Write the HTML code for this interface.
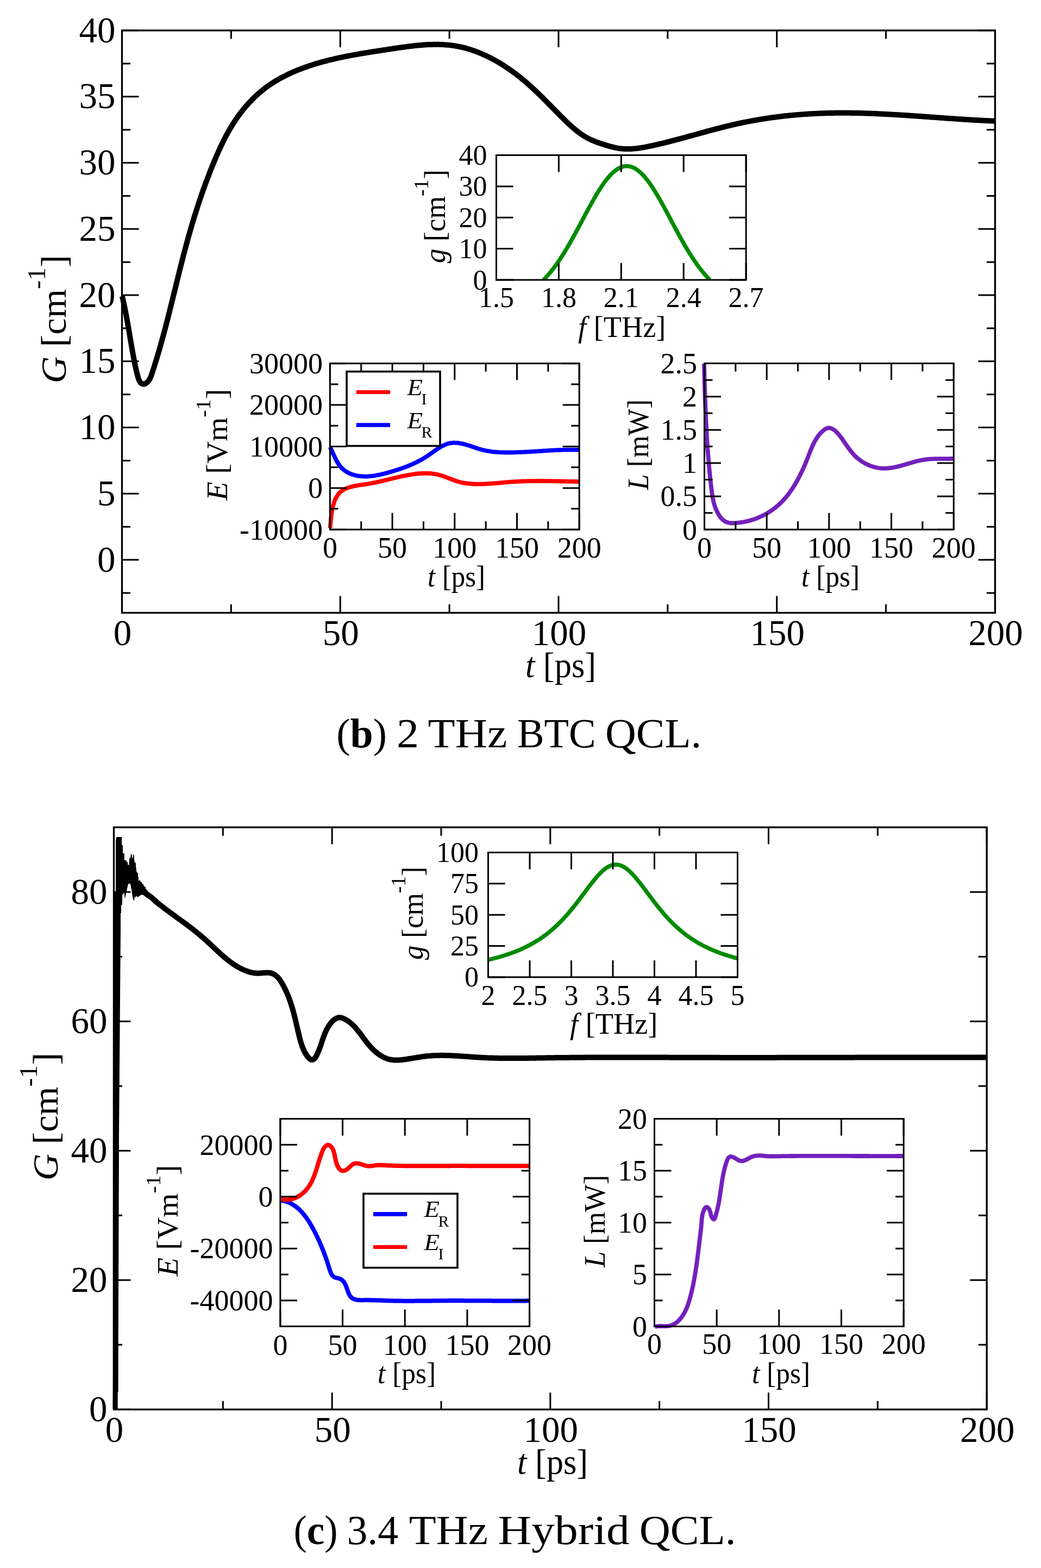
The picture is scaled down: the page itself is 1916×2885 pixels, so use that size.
<!DOCTYPE html>
<html><head><meta charset="utf-8"><title>QCL gain dynamics</title>
<style>html,body{margin:0;padding:0;background:#fff;}svg{display:block;}</style></head>
<body><svg xmlns="http://www.w3.org/2000/svg" width="1916" height="2885" viewBox="0 0 1916 2885" font-family="Liberation Serif, serif" fill="#000">
<rect width="1916" height="2885" fill="#fff"/>
<path d="M224.5,1127.5v-31M224.5,56v31M626.25,1127.5v-31M626.25,56v31M1028,1127.5v-31M1028,56v31M1429.75,1127.5v-31M1429.75,56v31M1831.5,1127.5v-31M1831.5,56v31M425.38,1127.5v-15.5M425.38,56v15.5M827.12,1127.5v-15.5M827.12,56v15.5M1228.88,1127.5v-15.5M1228.88,56v15.5M1630.62,1127.5v-15.5M1630.62,56v15.5M224.5,1030.09h31M1831.5,1030.09h-31M224.5,908.33h31M1831.5,908.33h-31M224.5,786.57h31M1831.5,786.57h-31M224.5,664.81h31M1831.5,664.81h-31M224.5,543.05h31M1831.5,543.05h-31M224.5,421.28h31M1831.5,421.28h-31M224.5,299.52h31M1831.5,299.52h-31M224.5,177.76h31M1831.5,177.76h-31M224.5,56h31M1831.5,56h-31M224.5,1090.97h15.5M1831.5,1090.97h-15.5M224.5,969.21h15.5M1831.5,969.21h-15.5M224.5,847.45h15.5M1831.5,847.45h-15.5M224.5,725.69h15.5M1831.5,725.69h-15.5M224.5,603.93h15.5M1831.5,603.93h-15.5M224.5,482.16h15.5M1831.5,482.16h-15.5M224.5,360.4h15.5M1831.5,360.4h-15.5M224.5,238.64h15.5M1831.5,238.64h-15.5M224.5,116.88h15.5M1831.5,116.88h-15.5" stroke="#000" stroke-width="3" fill="none"/>
<rect x="224.5" y="56" width="1607" height="1071.5" fill="none" stroke="#000" stroke-width="3.3"/>
<text x="212.6" y="1051.69" font-size="67" text-anchor="end">0</text>
<text x="212.6" y="929.93" font-size="67" text-anchor="end">5</text>
<text x="212.6" y="808.17" font-size="67" text-anchor="end">10</text>
<text x="212.6" y="686.41" font-size="67" text-anchor="end">15</text>
<text x="212.6" y="564.65" font-size="67" text-anchor="end">20</text>
<text x="212.6" y="442.88" font-size="67" text-anchor="end">25</text>
<text x="212.6" y="321.12" font-size="67" text-anchor="end">30</text>
<text x="212.6" y="199.36" font-size="67" text-anchor="end">35</text>
<text x="212.6" y="77.6" font-size="67" text-anchor="end">40</text>
<text x="225.5" y="1187.2" font-size="67" text-anchor="middle">0</text>
<text x="627.25" y="1187.2" font-size="67" text-anchor="middle">50</text>
<text x="1029" y="1187.2" font-size="67" text-anchor="middle">100</text>
<text x="1430.75" y="1187.2" font-size="67" text-anchor="middle">150</text>
<text x="1832.5" y="1187.2" font-size="67" text-anchor="middle">200</text>
<path d="M224.8,545.0 L225.3,546.9 L225.7,548.8 L226.2,550.7 L226.6,552.6 L227.0,554.6 L227.4,556.5 L227.9,558.4 L228.3,560.3 L228.7,562.3 L229.1,564.2 L229.5,566.1 L229.9,568.1 L230.3,570.0 L230.7,572.0 L231.1,573.9 L231.4,575.9 L231.8,577.8 L232.2,579.8 L232.6,581.7 L232.9,583.7 L233.3,585.7 L233.6,587.6 L234.0,589.6 L234.4,591.5 L234.7,593.5 L235.1,595.5 L235.4,597.4 L235.8,599.4 L236.1,601.4 L236.4,603.3 L236.8,605.3 L237.1,607.3 L237.5,609.2 L237.8,611.2 L238.1,613.2 L238.5,615.1 L238.8,617.1 L239.1,619.1 L239.5,621.0 L239.8,623.0 L240.1,624.9 L240.5,626.9 L240.8,628.9 L241.1,630.8 L241.5,632.8 L241.8,634.7 L242.1,636.7 L242.5,638.6 L242.8,640.5 L243.1,642.5 L243.5,644.4 L243.8,646.4 L244.2,648.3 L244.5,650.2 L244.9,652.1 L245.2,654.0 L245.5,656.0 L245.9,657.9 L246.3,659.8 L246.6,661.7 L247.0,663.6 L247.4,665.5 L247.7,667.5 L248.1,669.4 L248.5,671.3 L249.0,673.3 L249.4,675.2 L249.8,677.2 L250.3,679.1 L250.7,681.1 L251.2,683.1 L251.7,685.1 L252.2,687.1 L252.7,689.1 L253.3,691.2 L253.8,693.2 L254.4,695.3 L255.1,697.3 L255.8,699.3 L256.7,701.1 L257.7,702.7 L258.8,704.2 L260.2,705.4 L261.7,706.3 L263.4,706.7 L265.2,706.7 L267.0,706.1 L268.7,705.1 L270.2,704.0 L271.6,702.8 L272.9,701.4 L274.0,699.9 L275.0,698.4 L275.9,696.7 L276.8,695.0 L277.5,693.2 L278.2,691.3 L278.9,689.4 L279.6,687.5 L280.2,685.6 L280.8,683.7 L281.4,681.8 L282.1,679.9 L282.7,678.0 L283.3,676.1 L283.9,674.2 L284.5,672.3 L285.1,670.4 L285.7,668.5 L286.3,666.5 L286.9,664.6 L287.5,662.7 L288.1,660.8 L288.6,658.9 L289.2,657.0 L289.8,655.1 L290.4,653.2 L290.9,651.2 L291.5,649.3 L292.1,647.4 L292.6,645.5 L293.2,643.6 L293.7,641.7 L294.3,639.7 L294.8,637.8 L295.4,635.9 L295.9,634.0 L296.4,632.1 L297.0,630.2 L297.5,628.2 L298.0,626.3 L298.6,624.4 L299.1,622.5 L299.6,620.6 L300.2,618.6 L300.7,616.7 L301.2,614.8 L301.7,612.9 L302.2,610.9 L302.7,609.0 L303.2,607.1 L303.8,605.2 L304.3,603.3 L304.8,601.3 L305.3,599.4 L305.8,597.5 L306.3,595.6 L306.8,593.6 L307.3,591.7 L307.8,589.8 L308.3,587.9 L308.8,585.9 L309.2,584.0 L309.7,582.1 L310.2,580.2 L310.7,578.2 L311.2,576.3 L311.7,574.4 L312.2,572.5 L312.6,570.5 L313.1,568.6 L313.6,566.7 L314.1,564.8 L314.6,562.8 L315.0,560.9 L315.5,559.0 L316.0,557.1 L316.5,555.1 L316.9,553.2 L317.4,551.3 L317.9,549.4 L318.4,547.4 L318.8,545.5 L319.3,543.6 L319.8,541.7 L320.3,539.7 L320.7,537.8 L321.2,535.9 L321.7,534.0 L322.2,532.0 L322.6,530.1 L323.1,528.2 L323.6,526.3 L324.0,524.3 L324.5,522.4 L325.0,520.5 L325.5,518.6 L325.9,516.6 L326.4,514.7 L326.9,512.8 L327.4,510.9 L327.8,508.9 L328.3,507.0 L328.8,505.1 L329.3,503.2 L329.8,501.3 L330.2,499.3 L330.7,497.4 L331.2,495.5 L331.7,493.6 L332.2,491.6 L332.6,489.7 L333.1,487.8 L333.6,485.9 L334.1,484.0 L334.6,482.0 L335.1,480.1 L335.6,478.2 L336.1,476.3 L336.6,474.4 L337.0,472.4 L337.5,470.5 L338.0,468.6 L338.5,466.7 L339.0,464.8 L339.5,462.9 L340.1,460.9 L340.6,459.0 L341.1,457.1 L341.6,455.2 L342.1,453.3 L342.6,451.4 L343.1,449.5 L343.6,447.5 L344.2,445.6 L344.7,443.7 L345.2,441.8 L345.7,439.9 L346.3,438.0 L346.8,436.1 L347.3,434.2 L347.9,432.2 L348.4,430.3 L349.0,428.4 L349.5,426.5 L350.1,424.6 L350.6,422.7 L351.2,420.8 L351.7,418.9 L352.3,417.0 L352.8,415.1 L353.4,413.2 L354.0,411.3 L354.5,409.4 L355.1,407.5 L355.7,405.6 L356.3,403.7 L356.8,401.8 L357.4,399.9 L358.0,398.0 L358.6,396.1 L359.2,394.2 L359.8,392.3 L360.4,390.4 L361.0,388.5 L361.6,386.6 L362.2,384.7 L362.8,382.8 L363.4,380.9 L364.0,379.0 L364.6,377.1 L365.2,375.3 L365.9,373.4 L366.5,371.5 L367.1,369.6 L367.8,367.7 L368.4,365.8 L369.0,364.0 L369.7,362.1 L370.3,360.2 L371.0,358.3 L371.6,356.4 L372.3,354.6 L372.9,352.7 L373.6,350.8 L374.2,348.9 L374.9,347.1 L375.6,345.2 L376.3,343.3 L376.9,341.5 L377.6,339.6 L378.3,337.7 L379.0,335.9 L379.7,334.0 L380.4,332.1 L381.1,330.3 L381.8,328.4 L382.5,326.6 L383.2,324.7 L383.9,322.9 L384.6,321.0 L385.3,319.2 L386.1,317.3 L386.8,315.5 L387.5,313.6 L388.2,311.8 L389.0,309.9 L389.7,308.1 L390.5,306.2 L391.2,304.4 L392.0,302.6 L392.7,300.7 L393.5,298.9 L394.2,297.1 L395.0,295.2 L395.8,293.4 L396.5,291.6 L397.3,289.8 L398.1,287.9 L398.9,286.1 L399.7,284.3 L400.5,282.5 L401.3,280.7 L402.1,278.9 L402.9,277.0 L403.7,275.2 L404.6,273.4 L405.4,271.6 L406.2,269.8 L407.1,268.0 L407.9,266.3 L408.8,264.5 L409.7,262.7 L410.5,260.9 L411.4,259.1 L412.3,257.4 L413.2,255.6 L414.1,253.9 L415.0,252.1 L415.9,250.3 L416.9,248.6 L417.8,246.9 L418.8,245.1 L419.7,243.4 L420.7,241.7 L421.7,239.9 L422.7,238.2 L423.6,236.5 L424.7,234.8 L425.7,233.1 L426.7,231.4 L427.7,229.7 L428.8,228.1 L429.9,226.4 L430.9,224.7 L432.0,223.1 L433.1,221.4 L434.2,219.7 L435.4,218.1 L436.5,216.5 L437.6,214.8 L438.8,213.2 L440.0,211.6 L441.1,210.0 L442.3,208.4 L443.5,206.8 L444.8,205.3 L446.0,203.7 L447.2,202.1 L448.5,200.6 L449.8,199.1 L451.0,197.5 L452.3,196.0 L453.6,194.5 L454.9,193.0 L456.3,191.5 L457.6,190.0 L458.9,188.6 L460.3,187.1 L461.7,185.7 L463.0,184.2 L464.4,182.8 L465.8,181.4 L467.3,180.0 L468.7,178.7 L470.1,177.3 L471.6,175.9 L473.0,174.6 L474.5,173.3 L476.0,172.0 L477.5,170.7 L479.0,169.4 L480.5,168.1 L482.0,166.9 L483.6,165.6 L485.1,164.4 L486.7,163.2 L488.2,162.0 L489.8,160.8 L491.4,159.6 L493.0,158.5 L494.6,157.4 L496.2,156.2 L497.9,155.1 L499.5,154.0 L501.2,153.0 L502.8,151.9 L504.5,150.8 L506.2,149.8 L507.9,148.8 L509.5,147.8 L511.3,146.8 L513.0,145.8 L514.7,144.8 L516.4,143.9 L518.1,142.9 L519.9,142.0 L521.6,141.1 L523.4,140.2 L525.2,139.3 L526.9,138.4 L528.7,137.5 L530.5,136.7 L532.3,135.8 L534.1,135.0 L535.9,134.1 L537.7,133.3 L539.5,132.5 L541.4,131.7 L543.2,131.0 L545.0,130.2 L546.9,129.4 L548.7,128.7 L550.6,128.0 L552.4,127.2 L554.3,126.5 L556.1,125.8 L558.0,125.1 L559.9,124.4 L561.7,123.8 L563.6,123.1 L565.5,122.4 L567.4,121.8 L569.3,121.1 L571.2,120.5 L573.1,119.9 L575.0,119.3 L576.9,118.7 L578.8,118.1 L580.7,117.5 L582.6,116.9 L584.5,116.4 L586.4,115.8 L588.4,115.3 L590.3,114.7 L592.2,114.2 L594.1,113.7 L596.0,113.1 L598.0,112.6 L599.9,112.1 L601.8,111.6 L603.7,111.1 L605.7,110.7 L607.6,110.2 L609.5,109.7 L611.4,109.3 L613.4,108.8 L615.3,108.3 L617.2,107.9 L619.2,107.5 L621.1,107.0 L623.0,106.6 L624.9,106.2 L626.9,105.8 L628.8,105.4 L630.7,105.0 L632.7,104.6 L634.6,104.2 L636.5,103.8 L638.5,103.4 L640.4,103.0 L642.3,102.7 L644.3,102.3 L646.2,101.9 L648.1,101.6 L650.1,101.2 L652.0,100.9 L654.0,100.5 L655.9,100.2 L657.8,99.8 L659.8,99.5 L661.7,99.1 L663.7,98.8 L665.6,98.5 L667.6,98.2 L669.5,97.8 L671.4,97.5 L673.4,97.2 L675.3,96.9 L677.3,96.6 L679.2,96.2 L681.2,95.9 L683.1,95.6 L685.1,95.3 L687.1,95.0 L689.0,94.7 L691.0,94.4 L692.9,94.1 L694.9,93.8 L696.9,93.5 L698.8,93.2 L700.8,92.9 L702.7,92.6 L704.7,92.3 L706.7,92.0 L708.6,91.7 L710.6,91.4 L712.6,91.1 L714.6,90.8 L716.5,90.5 L718.5,90.2 L720.5,89.9 L722.5,89.6 L724.5,89.3 L726.4,89.0 L728.4,88.7 L730.4,88.4 L732.4,88.1 L734.4,87.8 L736.4,87.5 L738.4,87.3 L740.3,87.0 L742.3,86.7 L744.3,86.4 L746.3,86.2 L748.3,85.9 L750.3,85.6 L752.3,85.4 L754.3,85.1 L756.3,84.9 L758.3,84.7 L760.2,84.4 L762.2,84.2 L764.2,84.0 L766.2,83.8 L768.2,83.6 L770.2,83.4 L772.2,83.2 L774.2,83.1 L776.2,82.9 L778.1,82.7 L780.1,82.6 L782.1,82.5 L784.1,82.3 L786.1,82.2 L788.1,82.1 L790.0,82.0 L792.0,82.0 L794.0,81.9 L796.0,81.9 L798.0,81.8 L799.9,81.8 L801.9,81.8 L803.9,81.8 L805.8,81.8 L807.8,81.8 L809.8,81.9 L811.7,82.0 L813.7,82.0 L815.7,82.1 L817.6,82.3 L819.6,82.4 L821.5,82.5 L823.5,82.7 L825.4,82.9 L827.4,83.1 L829.3,83.3 L831.2,83.5 L833.2,83.8 L835.1,84.1 L837.1,84.4 L839.0,84.7 L840.9,85.0 L842.8,85.4 L844.7,85.7 L846.7,86.1 L848.6,86.6 L850.5,87.0 L852.4,87.4 L854.3,87.9 L856.2,88.4 L858.1,88.9 L860.0,89.5 L861.9,90.0 L863.8,90.6 L865.6,91.2 L867.5,91.8 L869.4,92.4 L871.2,93.0 L873.1,93.7 L875.0,94.3 L876.8,95.0 L878.7,95.7 L880.5,96.5 L882.4,97.2 L884.2,98.0 L886.0,98.7 L887.8,99.5 L889.7,100.3 L891.5,101.1 L893.3,102.0 L895.1,102.8 L896.9,103.7 L898.7,104.5 L900.5,105.4 L902.3,106.3 L904.0,107.2 L905.8,108.2 L907.6,109.1 L909.3,110.1 L911.1,111.0 L912.8,112.0 L914.6,113.0 L916.3,114.0 L918.0,115.0 L919.8,116.1 L921.5,117.1 L923.2,118.1 L924.9,119.2 L926.6,120.3 L928.3,121.4 L930.0,122.5 L931.6,123.6 L933.3,124.7 L935.0,125.8 L936.6,126.9 L938.3,128.1 L939.9,129.2 L941.6,130.4 L943.2,131.6 L944.8,132.7 L946.4,133.9 L948.0,135.1 L949.6,136.3 L951.2,137.5 L952.8,138.8 L954.4,140.0 L955.9,141.2 L957.5,142.5 L959.0,143.7 L960.6,145.0 L962.1,146.2 L963.6,147.5 L965.1,148.8 L966.7,150.0 L968.2,151.3 L969.6,152.6 L971.1,153.9 L972.6,155.2 L974.1,156.5 L975.5,157.8 L977.0,159.1 L978.5,160.5 L979.9,161.8 L981.3,163.1 L982.8,164.5 L984.2,165.8 L985.6,167.1 L987.1,168.5 L988.5,169.8 L989.9,171.2 L991.3,172.6 L992.7,173.9 L994.1,175.3 L995.5,176.7 L996.9,178.0 L998.3,179.4 L999.7,180.8 L1001.1,182.2 L1002.5,183.6 L1003.9,185.0 L1005.3,186.4 L1006.6,187.8 L1008.0,189.2 L1009.4,190.6 L1010.8,192.0 L1012.2,193.4 L1013.6,194.8 L1015.0,196.2 L1016.3,197.6 L1017.7,199.0 L1019.1,200.4 L1020.5,201.8 L1021.9,203.3 L1023.3,204.7 L1024.7,206.1 L1026.1,207.5 L1027.5,209.0 L1028.9,210.4 L1030.3,211.8 L1031.7,213.2 L1033.1,214.7 L1034.6,216.1 L1036.0,217.5 L1037.4,218.9 L1038.8,220.3 L1040.3,221.7 L1041.7,223.2 L1043.2,224.6 L1044.6,225.9 L1046.1,227.3 L1047.6,228.7 L1049.1,230.1 L1050.6,231.4 L1052.1,232.7 L1053.6,234.1 L1055.1,235.4 L1056.6,236.7 L1058.1,237.9 L1059.7,239.2 L1061.2,240.5 L1062.8,241.7 L1064.3,242.9 L1065.9,244.1 L1067.5,245.2 L1069.1,246.4 L1070.7,247.5 L1072.4,248.6 L1074.0,249.6 L1075.7,250.7 L1077.3,251.7 L1079.0,252.7 L1080.7,253.6 L1082.4,254.6 L1084.1,255.4 L1085.9,256.3 L1087.6,257.1 L1089.4,257.9 L1091.2,258.7 L1093.0,259.4 L1094.8,260.2 L1096.6,260.9 L1098.4,261.5 L1100.3,262.2 L1102.1,262.9 L1104.0,263.5 L1105.9,264.1 L1107.7,264.7 L1109.6,265.3 L1111.5,265.9 L1113.4,266.5 L1115.4,267.1 L1117.3,267.7 L1119.2,268.3 L1121.2,268.9 L1123.1,269.4 L1125.1,269.9 L1127.0,270.4 L1129.0,270.9 L1130.9,271.4 L1132.9,271.8 L1134.9,272.2 L1136.8,272.6 L1138.8,272.9 L1140.7,273.2 L1142.7,273.4 L1144.7,273.6 L1146.6,273.8 L1148.6,273.9 L1150.6,274.0 L1152.5,274.0 L1154.5,274.1 L1156.5,274.1 L1158.4,274.0 L1160.4,274.0 L1162.3,273.9 L1164.3,273.7 L1166.3,273.6 L1168.2,273.4 L1170.2,273.2 L1172.1,273.0 L1174.1,272.8 L1176.0,272.5 L1178.0,272.2 L1180.0,271.9 L1181.9,271.6 L1183.9,271.3 L1185.8,270.9 L1187.8,270.6 L1189.7,270.2 L1191.7,269.8 L1193.6,269.4 L1195.5,269.0 L1197.5,268.6 L1199.4,268.2 L1201.4,267.8 L1203.3,267.3 L1205.2,266.9 L1207.2,266.5 L1209.1,266.0 L1211.1,265.6 L1213.0,265.1 L1214.9,264.7 L1216.9,264.2 L1218.8,263.8 L1220.7,263.3 L1222.7,262.8 L1224.6,262.4 L1226.5,261.9 L1228.4,261.4 L1230.4,260.9 L1232.3,260.4 L1234.2,259.9 L1236.1,259.4 L1238.1,258.9 L1240.0,258.4 L1241.9,257.9 L1243.8,257.4 L1245.7,256.9 L1247.7,256.4 L1249.6,255.9 L1251.5,255.4 L1253.4,254.9 L1255.3,254.3 L1257.3,253.8 L1259.2,253.3 L1261.1,252.8 L1263.0,252.3 L1264.9,251.7 L1266.8,251.2 L1268.8,250.7 L1270.7,250.2 L1272.6,249.6 L1274.5,249.1 L1276.4,248.6 L1278.3,248.0 L1280.3,247.5 L1282.2,247.0 L1284.1,246.4 L1286.0,245.9 L1287.9,245.4 L1289.8,244.9 L1291.7,244.3 L1293.7,243.8 L1295.6,243.3 L1297.5,242.8 L1299.4,242.2 L1301.3,241.7 L1303.2,241.2 L1305.2,240.7 L1307.1,240.1 L1309.0,239.6 L1310.9,239.1 L1312.8,238.6 L1314.8,238.1 L1316.7,237.6 L1318.6,237.1 L1320.5,236.6 L1322.4,236.1 L1324.4,235.6 L1326.3,235.1 L1328.2,234.6 L1330.1,234.1 L1332.1,233.6 L1334.0,233.1 L1335.9,232.7 L1337.8,232.2 L1339.8,231.7 L1341.7,231.3 L1343.6,230.8 L1345.5,230.3 L1347.5,229.9 L1349.4,229.4 L1351.3,229.0 L1353.3,228.6 L1355.2,228.1 L1357.1,227.7 L1359.1,227.3 L1361.0,226.9 L1363.0,226.4 L1364.9,226.0 L1366.8,225.6 L1368.8,225.2 L1370.7,224.8 L1372.7,224.4 L1374.6,224.1 L1376.6,223.7 L1378.5,223.3 L1380.5,222.9 L1382.4,222.6 L1384.4,222.2 L1386.3,221.9 L1388.3,221.5 L1390.2,221.2 L1392.2,220.8 L1394.1,220.5 L1396.1,220.1 L1398.0,219.8 L1400.0,219.5 L1402.0,219.2 L1403.9,218.9 L1405.9,218.6 L1407.8,218.2 L1409.8,217.9 L1411.8,217.7 L1413.7,217.4 L1415.7,217.1 L1417.6,216.8 L1419.6,216.5 L1421.6,216.2 L1423.5,216.0 L1425.5,215.7 L1427.5,215.5 L1429.4,215.2 L1431.4,214.9 L1433.4,214.7 L1435.3,214.5 L1437.3,214.2 L1439.3,214.0 L1441.2,213.8 L1443.2,213.5 L1445.2,213.3 L1447.2,213.1 L1449.1,212.9 L1451.1,212.7 L1453.1,212.5 L1455.1,212.3 L1457.0,212.1 L1459.0,211.9 L1461.0,211.7 L1463.0,211.6 L1464.9,211.4 L1466.9,211.2 L1468.9,211.0 L1470.9,210.9 L1472.8,210.7 L1474.8,210.6 L1476.8,210.4 L1478.8,210.3 L1480.7,210.1 L1482.7,210.0 L1484.7,209.9 L1486.7,209.7 L1488.7,209.6 L1490.6,209.5 L1492.6,209.4 L1494.6,209.3 L1496.6,209.2 L1498.6,209.0 L1500.5,208.9 L1502.5,208.9 L1504.5,208.8 L1506.5,208.7 L1508.5,208.6 L1510.5,208.5 L1512.4,208.4 L1514.4,208.4 L1516.4,208.3 L1518.4,208.2 L1520.4,208.2 L1522.3,208.1 L1524.3,208.1 L1526.3,208.0 L1528.3,208.0 L1530.3,207.9 L1532.3,207.9 L1534.2,207.9 L1536.2,207.8 L1538.2,207.8 L1540.2,207.8 L1542.2,207.8 L1544.1,207.8 L1546.1,207.8 L1548.1,207.8 L1550.1,207.8 L1552.1,207.8 L1554.1,207.8 L1556.0,207.8 L1558.0,207.8 L1560.0,207.8 L1562.0,207.8 L1564.0,207.8 L1566.0,207.8 L1567.9,207.9 L1569.9,207.9 L1571.9,207.9 L1573.9,208.0 L1575.9,208.0 L1577.8,208.0 L1579.8,208.1 L1581.8,208.1 L1583.8,208.2 L1585.8,208.2 L1587.8,208.3 L1589.7,208.3 L1591.7,208.4 L1593.7,208.5 L1595.7,208.5 L1597.7,208.6 L1599.7,208.7 L1601.6,208.7 L1603.6,208.8 L1605.6,208.9 L1607.6,209.0 L1609.6,209.1 L1611.6,209.1 L1613.5,209.2 L1615.5,209.3 L1617.5,209.4 L1619.5,209.5 L1621.5,209.6 L1623.4,209.7 L1625.4,209.8 L1627.4,209.9 L1629.4,210.0 L1631.4,210.1 L1633.4,210.2 L1635.3,210.3 L1637.3,210.4 L1639.3,210.5 L1641.3,210.6 L1643.3,210.7 L1645.3,210.9 L1647.2,211.0 L1649.2,211.1 L1651.2,211.2 L1653.2,211.3 L1655.2,211.4 L1657.2,211.6 L1659.1,211.7 L1661.1,211.8 L1663.1,211.9 L1665.1,212.1 L1667.1,212.2 L1669.1,212.3 L1671.0,212.5 L1673.0,212.6 L1675.0,212.7 L1677.0,212.9 L1679.0,213.0 L1680.9,213.1 L1682.9,213.3 L1684.9,213.4 L1686.9,213.5 L1688.9,213.7 L1690.9,213.8 L1692.8,214.0 L1694.8,214.1 L1696.8,214.2 L1698.8,214.4 L1700.8,214.5 L1702.8,214.7 L1704.7,214.8 L1706.7,214.9 L1708.7,215.1 L1710.7,215.2 L1712.7,215.4 L1714.6,215.5 L1716.6,215.7 L1718.6,215.8 L1720.6,215.9 L1722.6,216.1 L1724.6,216.2 L1726.5,216.4 L1728.5,216.5 L1730.5,216.7 L1732.5,216.8 L1734.5,216.9 L1736.4,217.1 L1738.4,217.2 L1740.4,217.4 L1742.4,217.5 L1744.4,217.7 L1746.3,217.8 L1748.3,217.9 L1750.3,218.1 L1752.3,218.2 L1754.3,218.3 L1756.3,218.5 L1758.2,218.6 L1760.2,218.8 L1762.2,218.9 L1764.2,219.0 L1766.2,219.2 L1768.1,219.3 L1770.1,219.4 L1772.1,219.5 L1774.1,219.7 L1776.1,219.8 L1778.0,219.9 L1780.0,220.0 L1782.0,220.2 L1784.0,220.3 L1786.0,220.4 L1787.9,220.5 L1789.9,220.7 L1791.9,220.8 L1793.9,220.9 L1795.9,221.0 L1797.8,221.1 L1799.8,221.2 L1801.8,221.3 L1803.8,221.4 L1805.8,221.5 L1807.7,221.6 L1809.7,221.8 L1811.7,221.9 L1813.7,222.0 L1815.7,222.0 L1817.6,222.1 L1819.6,222.2 L1821.6,222.3 L1823.6,222.4 L1825.6,222.5 L1827.5,222.6 L1829.5,222.7 L1831.5,222.7" fill="none" stroke="#000" stroke-width="10" stroke-linejoin="round" stroke-linecap="butt"/>
<clipPath id="cg1"><rect x="913.5" y="285.5" width="459.6" height="229.5"/></clipPath>
<path d="M1000.33,515 L1004.2,511 L1008.08,506.75 L1011.96,502.25 L1015.83,497.49 L1019.71,492.48 L1023.59,487.22 L1027.46,481.71 L1031.34,475.96 L1035.21,469.98 L1039.09,463.78 L1042.97,457.37 L1046.84,450.77 L1050.72,444.01 L1054.6,437.09 L1058.47,430.04 L1062.35,422.89 L1066.23,415.66 L1070.1,408.39 L1073.98,401.11 L1077.86,393.84 L1081.73,386.62 L1085.61,379.5 L1089.49,372.49 L1093.36,365.65 L1097.24,359.01 L1101.12,352.61 L1104.99,346.47 L1108.87,340.65 L1112.75,335.18 L1116.62,330.08 L1120.5,325.39 L1124.38,321.14 L1128.25,317.36 L1132.13,314.07 L1136.01,311.3 L1139.88,309.05 L1143.76,307.36 L1147.63,306.22 L1151.51,305.65 L1155.39,305.65 L1159.26,306.22 L1163.14,307.36 L1167.02,309.05 L1170.89,311.3 L1174.77,314.07 L1178.65,317.36 L1182.52,321.14 L1186.4,325.39 L1190.28,330.08 L1194.15,335.18 L1198.03,340.65 L1201.91,346.47 L1205.78,352.61 L1209.66,359.01 L1213.54,365.65 L1217.41,372.49 L1221.29,379.5 L1225.17,386.62 L1229.04,393.84 L1232.92,401.11 L1236.8,408.39 L1240.67,415.66 L1244.55,422.89 L1248.42,430.04 L1252.3,437.09 L1256.18,444.01 L1260.05,450.77 L1263.93,457.37 L1267.81,463.78 L1271.68,469.98 L1275.56,475.96 L1279.44,481.71 L1283.31,487.22 L1287.19,492.48 L1291.07,497.49 L1294.94,502.25 L1298.82,506.75 L1302.7,511 L1306.57,515" fill="none" stroke="#008b00" stroke-width="7.5" stroke-linejoin="round" stroke-linecap="butt" clip-path="url(#cg1)"/>
<path d="M913.5,515v-31M913.5,285.5v31M1028.4,515v-31M1028.4,285.5v31M1143.3,515v-31M1143.3,285.5v31M1258.2,515v-31M1258.2,285.5v31M1373.1,515v-31M1373.1,285.5v31M913.5,515h31M1373.1,515h-31M913.5,457.62h31M1373.1,457.62h-31M913.5,400.25h31M1373.1,400.25h-31M913.5,342.88h31M1373.1,342.88h-31M913.5,285.5h31M1373.1,285.5h-31" stroke="#000" stroke-width="3" fill="none"/>
<rect x="913.5" y="285.5" width="459.6" height="229.5" fill="none" stroke="#000" stroke-width="3"/>
<text x="896.5" y="532.5" font-size="52" text-anchor="end">0</text>
<text x="896.5" y="475.12" font-size="52" text-anchor="end">10</text>
<text x="896.5" y="417.75" font-size="52" text-anchor="end">20</text>
<text x="896.5" y="360.38" font-size="52" text-anchor="end">30</text>
<text x="896.5" y="303" font-size="52" text-anchor="end">40</text>
<text x="913.5" y="564.7" font-size="52" text-anchor="middle">1.5</text>
<text x="1028.4" y="564.7" font-size="52" text-anchor="middle">1.8</text>
<text x="1143.3" y="564.7" font-size="52" text-anchor="middle">2.1</text>
<text x="1258.2" y="564.7" font-size="52" text-anchor="middle">2.4</text>
<text x="1373.1" y="564.7" font-size="52" text-anchor="middle">2.7</text>
<path d="M607.5,822.5 L608.3,824.1 L609.1,825.8 L609.9,827.5 L610.7,829.2 L611.5,831.0 L612.3,832.8 L613.1,834.6 L613.9,836.4 L614.8,838.2 L615.6,840.1 L616.5,841.9 L617.3,843.7 L618.2,845.5 L619.2,847.3 L620.1,849.0 L621.1,850.7 L622.2,852.4 L623.2,854.1 L624.4,855.7 L625.5,857.2 L626.7,858.7 L628.0,860.1 L629.3,861.5 L630.7,862.8 L632.1,864.0 L633.6,865.2 L635.1,866.3 L636.6,867.3 L638.2,868.3 L639.8,869.2 L641.5,870.1 L643.1,870.9 L644.9,871.6 L646.6,872.3 L648.4,873.0 L650.1,873.5 L651.9,874.1 L653.8,874.5 L655.6,875.0 L657.4,875.3 L659.3,875.6 L661.1,875.9 L663.0,876.1 L664.9,876.3 L666.8,876.4 L668.7,876.5 L670.6,876.6 L672.5,876.6 L674.4,876.6 L676.4,876.5 L678.3,876.4 L680.2,876.2 L682.2,876.1 L684.1,875.9 L686.1,875.6 L688.0,875.4 L690.0,875.1 L691.9,874.8 L693.9,874.4 L695.8,874.0 L697.8,873.6 L699.7,873.2 L701.7,872.8 L703.6,872.3 L705.6,871.9 L707.5,871.4 L709.5,870.9 L711.4,870.4 L713.3,869.8 L715.2,869.3 L717.1,868.8 L719.0,868.2 L720.9,867.6 L722.8,867.1 L724.7,866.5 L726.5,865.9 L728.4,865.3 L730.2,864.8 L732.1,864.2 L733.9,863.6 L735.7,863.0 L737.5,862.3 L739.3,861.7 L741.1,861.1 L742.9,860.4 L744.7,859.8 L746.5,859.1 L748.2,858.5 L750.0,857.8 L751.7,857.1 L753.5,856.4 L755.2,855.6 L757.0,854.9 L758.7,854.2 L760.4,853.4 L762.1,852.6 L763.8,851.8 L765.5,851.0 L767.2,850.2 L768.9,849.3 L770.6,848.4 L772.2,847.6 L773.9,846.6 L775.6,845.7 L777.2,844.8 L778.9,843.8 L780.5,842.8 L782.2,841.8 L783.8,840.8 L785.5,839.7 L787.1,838.6 L788.7,837.5 L790.4,836.4 L792.0,835.3 L793.6,834.1 L795.3,833.0 L796.9,831.8 L798.5,830.6 L800.1,829.5 L801.8,828.3 L803.4,827.2 L805.1,826.1 L806.7,825.0 L808.4,824.0 L810.0,822.9 L811.7,822.0 L813.4,821.0 L815.1,820.1 L816.8,819.3 L818.5,818.5 L820.2,817.8 L822.0,817.1 L823.7,816.6 L825.5,816.1 L827.3,815.6 L829.1,815.3 L830.9,815.0 L832.8,814.8 L834.6,814.7 L836.5,814.7 L838.4,814.8 L840.3,814.9 L842.2,815.0 L844.1,815.2 L846.0,815.5 L847.9,815.9 L849.8,816.2 L851.7,816.6 L853.6,817.1 L855.6,817.6 L857.5,818.1 L859.4,818.7 L861.3,819.2 L863.1,819.8 L865.0,820.4 L866.9,821.0 L868.7,821.7 L870.6,822.3 L872.4,822.9 L874.3,823.5 L876.1,824.2 L878.0,824.8 L879.8,825.4 L881.7,825.9 L883.5,826.5 L885.4,827.0 L887.2,827.5 L889.1,828.0 L891.0,828.4 L892.8,828.8 L894.7,829.2 L896.6,829.6 L898.5,829.9 L900.4,830.2 L902.3,830.5 L904.2,830.8 L906.1,831.0 L908.0,831.3 L909.9,831.5 L911.8,831.6 L913.7,831.8 L915.7,831.9 L917.6,832.1 L919.5,832.2 L921.4,832.3 L923.3,832.3 L925.3,832.4 L927.2,832.4 L929.1,832.5 L931.1,832.5 L933.0,832.5 L934.9,832.5 L936.9,832.5 L938.8,832.5 L940.7,832.5 L942.7,832.4 L944.6,832.4 L946.5,832.4 L948.5,832.3 L950.4,832.2 L952.3,832.2 L954.3,832.1 L956.2,832.0 L958.1,832.0 L960.1,831.9 L962.0,831.8 L963.9,831.7 L965.8,831.6 L967.8,831.5 L969.7,831.4 L971.6,831.3 L973.6,831.2 L975.5,831.1 L977.4,831.0 L979.4,830.9 L981.3,830.7 L983.2,830.6 L985.1,830.5 L987.1,830.4 L989.0,830.3 L990.9,830.1 L992.9,830.0 L994.8,829.9 L996.7,829.8 L998.6,829.6 L1000.6,829.5 L1002.5,829.4 L1004.4,829.3 L1006.4,829.2 L1008.3,829.1 L1010.2,828.9 L1012.1,828.8 L1014.1,828.7 L1016.0,828.6 L1017.9,828.5 L1019.9,828.4 L1021.8,828.3 L1023.7,828.2 L1025.6,828.2 L1027.6,828.1 L1029.5,828.0 L1031.4,827.9 L1033.4,827.9 L1035.3,827.8 L1037.2,827.7 L1039.1,827.7 L1041.1,827.7 L1043.0,827.6 L1044.9,827.6 L1046.9,827.6 L1048.8,827.6 L1050.7,827.6 L1052.7,827.6 L1054.6,827.6 L1056.5,827.6 L1058.5,827.6 L1060.4,827.6 L1062.3,827.7 L1064.3,827.7 L1066.2,827.8" fill="none" stroke="#0000ff" stroke-width="7.8" stroke-linejoin="round" stroke-linecap="butt"/>
<path d="M607.5,971.4 L607.7,969.6 L607.9,967.8 L608.0,966.0 L608.2,964.1 L608.4,962.2 L608.6,960.3 L608.7,958.3 L608.9,956.4 L609.1,954.4 L609.4,952.4 L609.6,950.4 L609.8,948.4 L610.1,946.3 L610.4,944.3 L610.7,942.3 L611.0,940.3 L611.4,938.3 L611.7,936.3 L612.1,934.3 L612.6,932.3 L613.1,930.4 L613.6,928.5 L614.2,926.6 L614.8,924.7 L615.4,922.9 L616.1,921.1 L616.8,919.3 L617.6,917.6 L618.4,916.0 L619.3,914.3 L620.3,912.8 L621.3,911.3 L622.3,909.8 L623.4,908.4 L624.6,907.1 L625.9,905.8 L627.2,904.6 L628.6,903.5 L630.1,902.5 L631.6,901.5 L633.2,900.6 L634.8,899.8 L636.5,899.0 L638.2,898.3 L640.0,897.6 L641.8,897.0 L643.7,896.4 L645.6,895.9 L647.4,895.4 L649.4,894.9 L651.3,894.5 L653.2,894.1 L655.2,893.7 L657.1,893.4 L659.1,893.0 L661.0,892.7 L663.0,892.4 L665.0,892.1 L666.9,891.8 L668.9,891.5 L670.9,891.3 L672.8,891.0 L674.8,890.7 L676.7,890.4 L678.7,890.0 L680.6,889.7 L682.6,889.3 L684.5,889.0 L686.4,888.6 L688.3,888.2 L690.2,887.9 L692.1,887.5 L694.0,887.1 L695.9,886.6 L697.8,886.2 L699.7,885.8 L701.5,885.4 L703.4,884.9 L705.3,884.5 L707.2,884.0 L709.0,883.6 L710.9,883.1 L712.8,882.7 L714.6,882.2 L716.5,881.8 L718.3,881.3 L720.2,880.9 L722.1,880.4 L723.9,880.0 L725.8,879.5 L727.7,879.1 L729.5,878.7 L731.4,878.2 L733.3,877.8 L735.1,877.4 L737.0,876.9 L738.9,876.5 L740.8,876.1 L742.7,875.7 L744.5,875.4 L746.4,875.0 L748.3,874.6 L750.2,874.3 L752.2,873.9 L754.1,873.6 L756.0,873.3 L757.9,873.0 L759.8,872.7 L761.8,872.4 L763.7,872.2 L765.7,871.9 L767.6,871.7 L769.5,871.5 L771.5,871.3 L773.4,871.2 L775.4,871.1 L777.3,871.0 L779.3,870.9 L781.2,870.8 L783.2,870.8 L785.1,870.8 L787.0,870.9 L789.0,871.0 L790.9,871.1 L792.8,871.2 L794.7,871.4 L796.6,871.6 L798.5,871.9 L800.4,872.2 L802.3,872.5 L804.2,872.9 L806.1,873.3 L807.9,873.8 L809.8,874.3 L811.6,874.8 L813.4,875.4 L815.3,876.0 L817.1,876.6 L818.9,877.3 L820.7,877.9 L822.5,878.6 L824.3,879.3 L826.2,880.0 L828.0,880.7 L829.8,881.4 L831.6,882.1 L833.4,882.8 L835.2,883.4 L837.0,884.1 L838.8,884.7 L840.7,885.3 L842.5,885.9 L844.3,886.5 L846.2,887.0 L848.0,887.4 L849.9,887.9 L851.8,888.3 L853.7,888.6 L855.6,889.0 L857.5,889.2 L859.4,889.5 L861.3,889.7 L863.2,889.9 L865.1,890.1 L867.0,890.2 L868.9,890.4 L870.9,890.5 L872.8,890.5 L874.7,890.6 L876.7,890.6 L878.6,890.7 L880.5,890.7 L882.5,890.7 L884.4,890.6 L886.3,890.6 L888.3,890.5 L890.2,890.5 L892.1,890.4 L894.1,890.3 L896.0,890.2 L897.9,890.1 L899.9,890.0 L901.8,889.9 L903.7,889.7 L905.7,889.6 L907.6,889.4 L909.5,889.3 L911.5,889.1 L913.4,889.0 L915.3,888.8 L917.3,888.6 L919.2,888.5 L921.1,888.3 L923.1,888.1 L925.0,887.9 L926.9,887.8 L928.9,887.6 L930.8,887.4 L932.7,887.3 L934.7,887.1 L936.6,887.0 L938.5,886.8 L940.5,886.7 L942.4,886.5 L944.3,886.4 L946.3,886.3 L948.2,886.2 L950.1,886.1 L952.1,886.0 L954.0,885.9 L955.9,885.8 L957.9,885.7 L959.8,885.6 L961.7,885.5 L963.7,885.5 L965.6,885.4 L967.5,885.3 L969.5,885.3 L971.4,885.2 L973.3,885.2 L975.3,885.2 L977.2,885.1 L979.1,885.1 L981.1,885.1 L983.0,885.1 L984.9,885.1 L986.9,885.0 L988.8,885.0 L990.7,885.0 L992.7,885.0 L994.6,885.0 L996.5,885.0 L998.5,885.0 L1000.4,885.1 L1002.3,885.1 L1004.3,885.1 L1006.2,885.1 L1008.1,885.1 L1010.1,885.2 L1012.0,885.2 L1013.9,885.2 L1015.9,885.2 L1017.8,885.3 L1019.7,885.3 L1021.7,885.3 L1023.6,885.4 L1025.5,885.4 L1027.5,885.4 L1029.4,885.5 L1031.4,885.5 L1033.3,885.5 L1035.2,885.6 L1037.2,885.6 L1039.1,885.7 L1041.0,885.7 L1043.0,885.7 L1044.9,885.8 L1046.8,885.8 L1048.8,885.8 L1050.7,885.9 L1052.6,885.9 L1054.6,885.9 L1056.5,886.0 L1058.5,886.0 L1060.4,886.0 L1062.3,886.1 L1064.3,886.1 L1066.2,886.1" fill="none" stroke="#ff0000" stroke-width="7.8" stroke-linejoin="round" stroke-linecap="butt"/>
<path d="M607.4,974.3v-30.5M607.4,668.7v30.5M722.1,974.3v-30.5M722.1,668.7v30.5M836.8,974.3v-30.5M836.8,668.7v30.5M951.5,974.3v-30.5M951.5,668.7v30.5M1066.2,974.3v-30.5M1066.2,668.7v30.5M664.75,974.3v-15M664.75,668.7v15M779.45,974.3v-15M779.45,668.7v15M894.15,974.3v-15M894.15,668.7v15M1008.85,974.3v-15M1008.85,668.7v15M607.4,974.3h30.5M1066.2,974.3h-30.5M607.4,897.9h30.5M1066.2,897.9h-30.5M607.4,821.5h30.5M1066.2,821.5h-30.5M607.4,745.1h30.5M1066.2,745.1h-30.5M607.4,668.7h30.5M1066.2,668.7h-30.5M607.4,936.1h15M1066.2,936.1h-15M607.4,859.7h15M1066.2,859.7h-15M607.4,783.3h15M1066.2,783.3h-15M607.4,706.9h15M1066.2,706.9h-15" stroke="#000" stroke-width="3" fill="none"/>
<rect x="607.4" y="668.7" width="458.8" height="305.6" fill="none" stroke="#000" stroke-width="3"/>
<text x="594" y="992.6" font-size="54" text-anchor="end">-10000</text>
<text x="594" y="916.2" font-size="54" text-anchor="end">0</text>
<text x="594" y="839.8" font-size="54" text-anchor="end">10000</text>
<text x="594" y="763.4" font-size="54" text-anchor="end">20000</text>
<text x="594" y="687" font-size="54" text-anchor="end">30000</text>
<text x="607.4" y="1026.3" font-size="54" text-anchor="middle">0</text>
<text x="722.1" y="1026.3" font-size="54" text-anchor="middle">50</text>
<text x="836.8" y="1026.3" font-size="54" text-anchor="middle">100</text>
<text x="951.5" y="1026.3" font-size="54" text-anchor="middle">150</text>
<text x="1066.2" y="1026.3" font-size="54" text-anchor="middle">200</text>
<rect x="638.1" y="683.6" width="171.9" height="136.9" fill="#fff" stroke="#000" stroke-width="3.6"/>
<path d="M655.8,721.5H718.1" stroke="#ff0000" stroke-width="7"/>
<path d="M655.8,782H718.1" stroke="#0000ff" stroke-width="7.5"/>
<text x="749.5" y="726.9" font-size="42" font-style="italic" textLength="28.5" lengthAdjust="spacingAndGlyphs">E</text><text x="775.5" y="744.1" font-size="30">I</text>
<text x="749.5" y="787.9" font-size="42" font-style="italic" textLength="28.5" lengthAdjust="spacingAndGlyphs">E</text><text x="775.5" y="804.9" font-size="30">R</text>
<path d="M1296.0,669.5 L1296.0,671.5 L1296.1,673.4 L1296.1,675.4 L1296.2,677.4 L1296.2,679.3 L1296.3,681.3 L1296.3,683.2 L1296.4,685.2 L1296.4,687.2 L1296.5,689.1 L1296.5,691.1 L1296.6,693.1 L1296.6,695.0 L1296.7,697.0 L1296.7,699.0 L1296.8,700.9 L1296.8,702.9 L1296.9,704.8 L1297.0,706.8 L1297.0,708.8 L1297.1,710.7 L1297.1,712.7 L1297.2,714.6 L1297.2,716.6 L1297.3,718.6 L1297.4,720.5 L1297.4,722.5 L1297.5,724.5 L1297.5,726.4 L1297.6,728.4 L1297.7,730.3 L1297.7,732.3 L1297.8,734.3 L1297.9,736.2 L1297.9,738.2 L1298.0,740.1 L1298.1,742.1 L1298.2,744.1 L1298.2,746.0 L1298.3,748.0 L1298.4,749.9 L1298.5,751.9 L1298.5,753.8 L1298.6,755.8 L1298.7,757.8 L1298.8,759.7 L1298.9,761.7 L1298.9,763.6 L1299.0,765.6 L1299.1,767.6 L1299.2,769.5 L1299.3,771.5 L1299.4,773.4 L1299.5,775.4 L1299.6,777.3 L1299.7,779.3 L1299.8,781.3 L1299.9,783.2 L1300.0,785.2 L1300.1,787.1 L1300.2,789.1 L1300.3,791.0 L1300.4,793.0 L1300.5,795.0 L1300.6,796.9 L1300.7,798.9 L1300.8,800.8 L1300.9,802.8 L1301.1,804.7 L1301.2,806.7 L1301.3,808.7 L1301.4,810.6 L1301.6,812.6 L1301.7,814.5 L1301.8,816.5 L1301.9,818.4 L1302.1,820.4 L1302.2,822.4 L1302.3,824.3 L1302.5,826.3 L1302.6,828.2 L1302.8,830.2 L1302.9,832.1 L1303.1,834.1 L1303.2,836.1 L1303.4,838.0 L1303.5,840.0 L1303.7,841.9 L1303.8,843.9 L1304.0,845.8 L1304.2,847.8 L1304.3,849.7 L1304.5,851.7 L1304.7,853.7 L1304.8,855.6 L1305.0,857.6 L1305.2,859.5 L1305.4,861.5 L1305.6,863.4 L1305.7,865.4 L1305.9,867.4 L1306.1,869.3 L1306.3,871.3 L1306.5,873.2 L1306.7,875.2 L1306.9,877.1 L1307.1,879.1 L1307.3,881.1 L1307.5,883.0 L1307.7,885.0 L1308.0,886.9 L1308.2,888.9 L1308.4,890.8 L1308.6,892.8 L1308.9,894.8 L1309.1,896.7 L1309.3,898.7 L1309.6,900.6 L1309.8,902.6 L1310.1,904.5 L1310.3,906.5 L1310.6,908.4 L1310.9,910.4 L1311.2,912.3 L1311.5,914.2 L1311.9,916.2 L1312.3,918.1 L1312.7,920.0 L1313.1,921.9 L1313.5,923.8 L1314.0,925.7 L1314.6,927.6 L1315.1,929.4 L1315.7,931.3 L1316.3,933.1 L1317.0,934.9 L1317.7,936.8 L1318.5,938.6 L1319.3,940.3 L1320.2,942.1 L1321.1,943.9 L1322.0,945.6 L1323.1,947.3 L1324.1,949.0 L1325.3,950.6 L1326.5,952.1 L1327.7,953.6 L1329.0,955.0 L1330.4,956.3 L1331.9,957.6 L1333.4,958.6 L1335.0,959.6 L1336.6,960.4 L1338.3,961.1 L1340.1,961.6 L1342.0,962.0 L1343.9,962.3 L1345.8,962.4 L1347.8,962.5 L1349.8,962.5 L1351.9,962.4 L1353.9,962.3 L1355.9,962.1 L1357.9,961.9 L1359.9,961.7 L1361.9,961.5 L1363.9,961.2 L1365.9,960.9 L1367.9,960.6 L1369.8,960.2 L1371.8,959.8 L1373.7,959.4 L1375.7,958.9 L1377.6,958.4 L1379.5,957.9 L1381.5,957.4 L1383.4,956.8 L1385.3,956.2 L1387.1,955.6 L1389.0,955.0 L1390.9,954.3 L1392.7,953.6 L1394.6,952.9 L1396.4,952.1 L1398.2,951.3 L1400.0,950.5 L1401.8,949.7 L1403.5,948.8 L1405.3,948.0 L1407.0,947.1 L1408.8,946.1 L1410.5,945.2 L1412.2,944.2 L1413.8,943.2 L1415.5,942.2 L1417.1,941.1 L1418.8,940.0 L1420.4,938.9 L1421.9,937.8 L1423.5,936.7 L1425.1,935.5 L1426.6,934.3 L1428.1,933.1 L1429.6,931.9 L1431.1,930.6 L1432.5,929.4 L1434.0,928.1 L1435.4,926.7 L1436.8,925.4 L1438.1,924.1 L1439.5,922.7 L1440.8,921.3 L1442.1,919.9 L1443.4,918.4 L1444.7,917.0 L1446.0,915.5 L1447.2,914.1 L1448.4,912.6 L1449.6,911.0 L1450.8,909.5 L1452.0,908.0 L1453.2,906.4 L1454.3,904.8 L1455.4,903.2 L1456.5,901.6 L1457.6,900.0 L1458.7,898.4 L1459.8,896.8 L1460.8,895.1 L1461.9,893.4 L1462.9,891.7 L1463.9,890.1 L1464.9,888.4 L1465.9,886.6 L1466.9,884.9 L1467.8,883.2 L1468.8,881.5 L1469.7,879.7 L1470.6,877.9 L1471.5,876.2 L1472.4,874.4 L1473.3,872.6 L1474.2,870.8 L1475.1,869.0 L1475.9,867.2 L1476.8,865.4 L1477.6,863.6 L1478.4,861.8 L1479.3,860.0 L1480.1,858.1 L1480.9,856.3 L1481.7,854.5 L1482.4,852.6 L1483.2,850.8 L1484.0,848.9 L1484.7,847.1 L1485.5,845.2 L1486.2,843.4 L1487.0,841.5 L1487.7,839.7 L1488.4,837.8 L1489.1,836.0 L1489.9,834.1 L1490.6,832.3 L1491.3,830.4 L1492.0,828.6 L1492.8,826.8 L1493.5,825.0 L1494.3,823.2 L1495.1,821.4 L1495.9,819.6 L1496.7,817.9 L1497.5,816.1 L1498.4,814.4 L1499.3,812.7 L1500.2,811.0 L1501.2,809.4 L1502.1,807.7 L1503.2,806.1 L1504.2,804.6 L1505.3,803.0 L1506.5,801.5 L1507.6,800.0 L1508.9,798.5 L1510.1,797.1 L1511.5,795.7 L1512.9,794.4 L1514.3,793.1 L1515.8,791.8 L1517.3,790.6 L1518.9,789.5 L1520.6,788.6 L1522.3,787.9 L1524.0,787.5 L1525.7,787.4 L1527.4,787.5 L1529.2,788.0 L1530.9,788.6 L1532.6,789.5 L1534.3,790.5 L1535.9,791.6 L1537.5,792.9 L1539.0,794.3 L1540.4,795.7 L1541.8,797.2 L1543.2,798.8 L1544.5,800.4 L1545.8,802.0 L1547.1,803.7 L1548.3,805.4 L1549.6,807.0 L1550.8,808.7 L1551.9,810.4 L1553.1,812.0 L1554.3,813.7 L1555.4,815.3 L1556.5,817.0 L1557.7,818.6 L1558.8,820.3 L1560.0,821.9 L1561.1,823.5 L1562.2,825.1 L1563.4,826.6 L1564.6,828.2 L1565.8,829.7 L1567.0,831.3 L1568.2,832.8 L1569.4,834.2 L1570.7,835.7 L1572.0,837.1 L1573.3,838.5 L1574.7,839.8 L1576.1,841.2 L1577.6,842.5 L1579.1,843.7 L1580.6,844.9 L1582.1,846.1 L1583.7,847.3 L1585.3,848.4 L1587.0,849.5 L1588.6,850.5 L1590.3,851.5 L1592.0,852.5 L1593.8,853.4 L1595.6,854.3 L1597.3,855.1 L1599.2,855.9 L1601.0,856.7 L1602.8,857.4 L1604.7,858.0 L1606.5,858.6 L1608.4,859.2 L1610.3,859.7 L1612.2,860.1 L1614.1,860.5 L1616.0,860.9 L1618.0,861.2 L1619.9,861.4 L1621.8,861.6 L1623.7,861.7 L1625.7,861.8 L1627.6,861.8 L1629.5,861.8 L1631.4,861.7 L1633.4,861.6 L1635.3,861.5 L1637.2,861.2 L1639.1,861.0 L1641.1,860.7 L1643.0,860.4 L1644.9,860.0 L1646.8,859.7 L1648.7,859.2 L1650.7,858.8 L1652.6,858.3 L1654.5,857.9 L1656.4,857.4 L1658.4,856.8 L1660.3,856.3 L1662.2,855.8 L1664.1,855.2 L1666.1,854.7 L1668.0,854.1 L1669.9,853.5 L1671.8,852.9 L1673.7,852.4 L1675.7,851.8 L1677.6,851.2 L1679.5,850.7 L1681.4,850.1 L1683.4,849.6 L1685.3,849.1 L1687.2,848.6 L1689.1,848.1 L1691.1,847.7 L1693.0,847.2 L1694.9,846.8 L1696.8,846.5 L1698.8,846.1 L1700.7,845.8 L1702.6,845.5 L1704.5,845.3 L1706.5,845.1 L1708.4,844.9 L1710.3,844.7 L1712.2,844.6 L1714.2,844.5 L1716.1,844.4 L1718.0,844.3 L1720.0,844.2 L1721.9,844.2 L1723.9,844.1 L1725.8,844.1 L1727.7,844.1 L1729.7,844.1 L1731.6,844.1 L1733.6,844.1 L1735.5,844.1 L1737.5,844.1 L1739.5,844.1 L1741.4,844.1 L1743.4,844.1 L1745.4,844.1 L1747.4,844.1 L1749.3,844.0 L1751.3,844.0 L1753.3,843.9 L1755.3,843.8" fill="none" stroke="#7221bc" stroke-width="7.8" stroke-linejoin="round" stroke-linecap="butt"/>
<path d="M1296.5,974.3v-30.5M1296.5,668.6v30.5M1411.2,974.3v-30.5M1411.2,668.6v30.5M1525.9,974.3v-30.5M1525.9,668.6v30.5M1640.6,974.3v-30.5M1640.6,668.6v30.5M1755.3,974.3v-30.5M1755.3,668.6v30.5M1353.85,974.3v-15M1353.85,668.6v15M1468.55,974.3v-15M1468.55,668.6v15M1583.25,974.3v-15M1583.25,668.6v15M1697.95,974.3v-15M1697.95,668.6v15M1296.5,974.3h30.5M1755.3,974.3h-30.5M1296.5,913.16h30.5M1755.3,913.16h-30.5M1296.5,852.02h30.5M1755.3,852.02h-30.5M1296.5,790.88h30.5M1755.3,790.88h-30.5M1296.5,729.74h30.5M1755.3,729.74h-30.5M1296.5,668.6h30.5M1755.3,668.6h-30.5M1296.5,943.73h15M1755.3,943.73h-15M1296.5,882.59h15M1755.3,882.59h-15M1296.5,821.45h15M1755.3,821.45h-15M1296.5,760.31h15M1755.3,760.31h-15M1296.5,699.17h15M1755.3,699.17h-15" stroke="#000" stroke-width="3" fill="none"/>
<rect x="1296.5" y="668.6" width="458.8" height="305.7" fill="none" stroke="#000" stroke-width="3"/>
<text x="1283" y="992.6" font-size="54" text-anchor="end">0</text>
<text x="1283" y="931.46" font-size="54" text-anchor="end">0.5</text>
<text x="1283" y="870.32" font-size="54" text-anchor="end">1</text>
<text x="1283" y="809.18" font-size="54" text-anchor="end">1.5</text>
<text x="1283" y="748.04" font-size="54" text-anchor="end">2</text>
<text x="1283" y="686.9" font-size="54" text-anchor="end">2.5</text>
<text x="1296.5" y="1026.3" font-size="54" text-anchor="middle">0</text>
<text x="1411.2" y="1026.3" font-size="54" text-anchor="middle">50</text>
<text x="1525.9" y="1026.3" font-size="54" text-anchor="middle">100</text>
<text x="1640.6" y="1026.3" font-size="54" text-anchor="middle">150</text>
<text x="1755.3" y="1026.3" font-size="54" text-anchor="middle">200</text>
<path d="M209.5,2593.3v-31M209.5,1522.2v31M611.17,2593.3v-31M611.17,1522.2v31M1012.85,2593.3v-31M1012.85,1522.2v31M1414.53,2593.3v-31M1414.53,1522.2v31M1816.2,2593.3v-31M1816.2,1522.2v31M410.34,2593.3v-15.5M410.34,1522.2v15.5M812.01,2593.3v-15.5M812.01,1522.2v15.5M1213.69,2593.3v-15.5M1213.69,1522.2v15.5M1615.36,2593.3v-15.5M1615.36,1522.2v15.5M209.5,2593.3h31M1816.2,2593.3h-31M209.5,2355.28h31M1816.2,2355.28h-31M209.5,2117.26h31M1816.2,2117.26h-31M209.5,1879.23h31M1816.2,1879.23h-31M209.5,1641.21h31M1816.2,1641.21h-31M209.5,2474.29h15.5M1816.2,2474.29h-15.5M209.5,2236.27h15.5M1816.2,2236.27h-15.5M209.5,1998.24h15.5M1816.2,1998.24h-15.5M209.5,1760.22h15.5M1816.2,1760.22h-15.5" stroke="#000" stroke-width="3" fill="none"/>
<rect x="209.5" y="1522.2" width="1606.7" height="1071.1" fill="none" stroke="#000" stroke-width="3.3"/>
<text x="197.5" y="2614.9" font-size="67" text-anchor="end">0</text>
<text x="197.5" y="2376.88" font-size="67" text-anchor="end">20</text>
<text x="197.5" y="2138.86" font-size="67" text-anchor="end">40</text>
<text x="197.5" y="1900.83" font-size="67" text-anchor="end">60</text>
<text x="197.5" y="1662.81" font-size="67" text-anchor="end">80</text>
<text x="210.5" y="2653" font-size="67" text-anchor="middle">0</text>
<text x="612.17" y="2653" font-size="67" text-anchor="middle">50</text>
<text x="1013.85" y="2653" font-size="67" text-anchor="middle">100</text>
<text x="1415.53" y="2653" font-size="67" text-anchor="middle">150</text>
<text x="1817.2" y="2653" font-size="67" text-anchor="middle">200</text>
<path d="M207.5,2593 L207.8,2530 L208,1640 L213,1640 L213,1547.2 L214.2,1540 L224.1,1540 L224.1,1554.9 L226,1554.9 L226,1569.8 L227.9,1569.8 L228.9,1572.1 L228.9,1582.8 L231.8,1582.8 L232.9,1584.4 L232.9,1585.9 L235,1585.9 L235,1590.9 L236.7,1590.9 L237.5,1592.8 L238,1580.2 L239,1577.1 L239.8,1580.5 L240.9,1572.1 L242.5,1570.9 L243,1577.8 L244.4,1579.7 L245.1,1572.1 L246.7,1573.3 L247.1,1582.8 L248.2,1587.4 L249.7,1587 L250.1,1593.9 L251.1,1602.7 L252.4,1605.7 L253.9,1606.1 L253.9,1613 L254.9,1613.4 L254.9,1620.7 L257.4,1619.1 L258.9,1622.6 L261.2,1623 L261.2,1626 L263.5,1626.4 L265,1630.6 L267.7,1632.1 L268.1,1635.2 L270.8,1637.5 L271.9,1639.8 L276.5,1643.6 L280.3,1645.9 L286.5,1651.3 L291,1655 L291,1668.5 L286.5,1665 L276.5,1655.9 L267.3,1649.7 L263.5,1646.7 L261.2,1645.9 L258.1,1647.4 L255.1,1649.7 L252.8,1650.9 L251.3,1647.4 L250.1,1650.5 L249,1652 L248.2,1647.4 L247.4,1653.6 L246.3,1657.8 L245.1,1654.7 L244,1649.7 L243.2,1645.1 L242.5,1639 L241.3,1633.7 L240.6,1629.1 L239.8,1626 L236,1626 L235.2,1629.8 L234,1634.8 L233.3,1639 L232.1,1642.8 L231.4,1646.7 L230.6,1650.5 L229.5,1653.6 L228.9,1643.2 L227.2,1643.2 L226.8,1645.9 L225.1,1645.9 L224.9,1664.7 L223,1665 L223,1679.6 L222,1680.5 L222,1710 L218.9,2100 L218.9,2140 L217.7,2480 L217.7,2561 L216.7,2562 L216.7,2593Z" fill="#000"/>
<path d="M284.0,1656.3 L285.5,1657.6 L287.1,1658.8 L288.6,1660.1 L290.2,1661.4 L291.7,1662.6 L293.3,1663.9 L294.8,1665.1 L296.4,1666.3 L298.0,1667.5 L299.5,1668.8 L301.1,1670.0 L302.7,1671.2 L304.3,1672.4 L305.9,1673.6 L307.4,1674.8 L309.0,1675.9 L310.6,1677.1 L312.2,1678.3 L313.8,1679.5 L315.4,1680.6 L317.0,1681.8 L318.6,1683.0 L320.2,1684.1 L321.8,1685.3 L323.4,1686.5 L325.0,1687.6 L326.5,1688.8 L328.1,1689.9 L329.7,1691.1 L331.3,1692.2 L332.9,1693.4 L334.5,1694.6 L336.1,1695.7 L337.7,1696.9 L339.3,1698.1 L340.9,1699.2 L342.5,1700.4 L344.0,1701.6 L345.6,1702.8 L347.2,1703.9 L348.8,1705.1 L350.3,1706.3 L351.9,1707.5 L353.5,1708.7 L355.0,1709.9 L356.6,1711.1 L358.2,1712.4 L359.7,1713.6 L361.3,1714.8 L362.8,1716.1 L364.3,1717.3 L365.9,1718.6 L367.4,1719.8 L368.9,1721.1 L370.4,1722.4 L371.9,1723.7 L373.4,1725.0 L374.9,1726.3 L376.4,1727.6 L377.9,1729.0 L379.4,1730.3 L380.9,1731.7 L382.4,1733.0 L383.8,1734.4 L385.3,1735.7 L386.8,1737.1 L388.2,1738.5 L389.7,1739.9 L391.2,1741.2 L392.6,1742.6 L394.1,1744.0 L395.5,1745.4 L397.0,1746.7 L398.5,1748.1 L399.9,1749.5 L401.4,1750.8 L402.9,1752.2 L404.3,1753.5 L405.8,1754.9 L407.3,1756.2 L408.8,1757.5 L410.3,1758.8 L411.8,1760.1 L413.3,1761.4 L414.8,1762.7 L416.3,1763.9 L417.8,1765.2 L419.4,1766.4 L420.9,1767.6 L422.5,1768.8 L424.0,1770.0 L425.6,1771.1 L427.2,1772.3 L428.8,1773.4 L430.4,1774.5 L432.0,1775.5 L433.6,1776.6 L435.3,1777.6 L437.0,1778.6 L438.6,1779.5 L440.3,1780.5 L442.0,1781.4 L443.7,1782.3 L445.5,1783.1 L447.2,1783.9 L449.0,1784.7 L450.8,1785.4 L452.6,1786.2 L454.4,1786.8 L456.3,1787.5 L458.1,1788.1 L460.0,1788.6 L461.9,1789.1 L463.9,1789.6 L465.8,1789.9 L467.8,1790.2 L469.8,1790.5 L471.9,1790.6 L473.9,1790.7 L476.0,1790.7 L478.1,1790.6 L480.3,1790.5 L482.4,1790.3 L484.5,1790.1 L486.6,1790.0 L488.7,1789.8 L490.8,1789.7 L492.8,1789.7 L494.8,1789.8 L496.8,1790.0 L498.6,1790.4 L500.4,1790.9 L502.1,1791.6 L503.8,1792.3 L505.4,1793.3 L506.9,1794.3 L508.3,1795.5 L509.7,1796.7 L511.1,1798.1 L512.4,1799.5 L513.7,1801.1 L514.9,1802.6 L516.0,1804.3 L517.1,1806.0 L518.2,1807.7 L519.3,1809.5 L520.3,1811.3 L521.3,1813.1 L522.2,1814.9 L523.2,1816.7 L524.1,1818.5 L525.0,1820.3 L525.8,1822.1 L526.7,1823.9 L527.5,1825.7 L528.3,1827.5 L529.1,1829.4 L529.8,1831.2 L530.6,1833.0 L531.3,1834.8 L532.0,1836.7 L532.7,1838.5 L533.3,1840.3 L534.0,1842.2 L534.6,1844.0 L535.2,1845.9 L535.8,1847.7 L536.4,1849.6 L537.0,1851.4 L537.6,1853.3 L538.1,1855.1 L538.7,1857.0 L539.2,1858.9 L539.7,1860.8 L540.2,1862.6 L540.7,1864.5 L541.2,1866.4 L541.7,1868.3 L542.2,1870.2 L542.7,1872.1 L543.1,1874.1 L543.6,1876.0 L544.1,1877.9 L544.5,1879.8 L545.0,1881.8 L545.4,1883.7 L545.9,1885.7 L546.3,1887.6 L546.8,1889.6 L547.3,1891.6 L547.7,1893.5 L548.2,1895.5 L548.6,1897.5 L549.1,1899.5 L549.6,1901.5 L550.0,1903.5 L550.5,1905.5 L551.0,1907.5 L551.5,1909.5 L552.0,1911.5 L552.6,1913.5 L553.1,1915.5 L553.7,1917.5 L554.3,1919.4 L554.9,1921.3 L555.5,1923.3 L556.2,1925.1 L556.9,1927.0 L557.6,1928.8 L558.4,1930.6 L559.2,1932.4 L560.0,1934.1 L560.9,1935.8 L561.8,1937.5 L562.8,1939.1 L563.8,1940.7 L564.8,1942.2 L565.9,1943.7 L567.1,1945.1 L568.3,1946.5 L569.5,1947.7 L570.8,1948.7 L572.1,1949.5 L573.5,1949.8 L574.8,1949.8 L576.2,1949.5 L577.5,1948.7 L578.8,1947.7 L580.0,1946.3 L581.1,1944.7 L582.2,1942.8 L583.3,1940.9 L584.2,1938.8 L585.2,1936.8 L586.0,1934.7 L586.9,1932.7 L587.7,1930.7 L588.4,1928.7 L589.1,1926.7 L589.8,1924.8 L590.5,1922.8 L591.1,1920.9 L591.8,1919.0 L592.4,1917.1 L593.0,1915.2 L593.6,1913.3 L594.3,1911.5 L594.9,1909.6 L595.5,1907.8 L596.2,1906.0 L596.9,1904.2 L597.6,1902.4 L598.3,1900.6 L599.1,1898.8 L599.9,1897.1 L600.7,1895.3 L601.6,1893.6 L602.5,1891.9 L603.5,1890.1 L604.6,1888.4 L605.7,1886.7 L606.9,1885.0 L608.1,1883.3 L609.5,1881.6 L610.8,1880.1 L612.3,1878.5 L613.8,1877.1 L615.4,1875.9 L617.0,1874.8 L618.6,1873.8 L620.4,1873.1 L622.1,1872.5 L623.9,1872.2 L625.7,1872.2 L627.6,1872.5 L629.5,1873.0 L631.4,1873.6 L633.2,1874.5 L635.1,1875.4 L636.8,1876.3 L638.5,1877.4 L640.2,1878.4 L641.8,1879.5 L643.4,1880.7 L644.9,1881.9 L646.4,1883.2 L647.9,1884.5 L649.3,1885.8 L650.7,1887.1 L652.0,1888.5 L653.4,1889.9 L654.7,1891.4 L655.9,1892.9 L657.2,1894.4 L658.4,1895.9 L659.7,1897.4 L660.9,1899.0 L662.1,1900.6 L663.3,1902.2 L664.5,1903.7 L665.7,1905.4 L666.8,1907.0 L668.0,1908.6 L669.2,1910.2 L670.4,1911.8 L671.6,1913.4 L672.8,1915.1 L674.1,1916.7 L675.3,1918.3 L676.6,1919.9 L677.9,1921.4 L679.2,1923.0 L680.5,1924.5 L681.9,1926.1 L683.3,1927.6 L684.7,1929.1 L686.1,1930.5 L687.6,1931.9 L689.1,1933.3 L690.6,1934.7 L692.1,1936.0 L693.7,1937.3 L695.3,1938.5 L696.9,1939.7 L698.5,1940.8 L700.2,1941.9 L701.9,1943.0 L703.6,1943.9 L705.3,1944.9 L707.0,1945.7 L708.8,1946.5 L710.6,1947.2 L712.4,1947.9 L714.2,1948.5 L716.0,1949.0 L717.9,1949.5 L719.8,1949.8 L721.7,1950.1 L723.6,1950.3 L725.5,1950.5 L727.4,1950.6 L729.4,1950.6 L731.3,1950.6 L733.3,1950.5 L735.3,1950.4 L737.2,1950.2 L739.2,1950.0 L741.2,1949.8 L743.2,1949.5 L745.2,1949.3 L747.2,1949.0 L749.2,1948.7 L751.1,1948.3 L753.1,1948.0 L755.1,1947.7 L757.1,1947.4 L759.0,1947.1 L761.0,1946.7 L763.0,1946.4 L764.9,1946.1 L766.9,1945.8 L768.8,1945.5 L770.8,1945.2 L772.7,1944.9 L774.7,1944.6 L776.6,1944.3 L778.6,1944.0 L780.5,1943.8 L782.5,1943.5 L784.4,1943.3 L786.4,1943.1 L788.3,1942.9 L790.3,1942.7 L792.2,1942.6 L794.2,1942.4 L796.2,1942.3 L798.1,1942.2 L800.1,1942.1 L802.0,1942.0 L804.0,1942.0 L806.0,1941.9 L807.9,1941.9 L809.9,1941.8 L811.9,1941.8 L813.8,1941.8 L815.8,1941.8 L817.8,1941.9 L819.7,1941.9 L821.7,1941.9 L823.7,1942.0 L825.6,1942.0 L827.6,1942.1 L829.6,1942.2 L831.6,1942.3 L833.5,1942.4 L835.5,1942.5 L837.5,1942.6 L839.5,1942.7 L841.4,1942.8 L843.4,1942.9 L845.4,1943.0 L847.4,1943.2 L849.3,1943.3 L851.3,1943.4 L853.3,1943.6 L855.3,1943.7 L857.3,1943.9 L859.2,1944.0 L861.2,1944.1 L863.2,1944.3 L865.2,1944.4 L867.2,1944.6 L869.1,1944.7 L871.1,1944.8 L873.1,1945.0 L875.1,1945.1 L877.1,1945.2 L879.0,1945.4 L881.0,1945.5 L883.0,1945.6 L885.0,1945.7 L887.0,1945.8 L889.0,1945.9 L890.9,1946.0 L892.9,1946.1 L894.9,1946.2 L896.9,1946.3 L898.9,1946.4 L900.8,1946.4 L902.8,1946.5 L904.8,1946.6 L906.8,1946.6 L908.8,1946.7 L910.7,1946.7 L912.7,1946.8 L914.7,1946.8 L916.7,1946.9 L918.7,1946.9 L920.7,1946.9 L922.6,1947.0 L924.6,1947.0 L926.6,1947.0 L928.6,1947.0 L930.6,1947.1 L932.5,1947.1 L934.5,1947.1 L936.5,1947.1 L938.5,1947.1 L940.5,1947.1 L942.4,1947.1 L944.4,1947.1 L946.4,1947.1 L948.4,1947.1 L950.4,1947.1 L952.4,1947.1 L954.3,1947.1 L956.3,1947.0 L958.3,1947.0 L960.3,1947.0 L962.3,1947.0 L964.2,1947.0 L966.2,1946.9 L968.2,1946.9 L970.2,1946.9 L972.2,1946.9 L974.1,1946.8 L976.1,1946.8 L978.1,1946.8 L980.1,1946.8 L982.1,1946.7 L984.0,1946.7 L986.0,1946.7 L988.0,1946.6 L990.0,1946.6 L992.0,1946.6 L993.9,1946.5 L995.9,1946.5 L997.9,1946.5 L999.9,1946.4 L1001.9,1946.4 L1003.9,1946.4 L1005.8,1946.3 L1007.8,1946.3 L1009.8,1946.3 L1011.8,1946.3 L1013.8,1946.2 L1015.7,1946.2 L1017.7,1946.2 L1019.7,1946.2 L1021.7,1946.1 L1023.7,1946.1 L1025.6,1946.1 L1027.6,1946.1 L1029.6,1946.0 L1031.6,1946.0 L1033.6,1946.0 L1035.5,1946.0 L1037.5,1946.0 L1039.5,1945.9 L1041.5,1945.9 L1043.5,1945.9 L1045.5,1945.9 L1047.4,1945.9 L1049.4,1945.8 L1051.4,1945.8 L1053.4,1945.8 L1055.4,1945.8 L1057.3,1945.8 L1059.3,1945.8 L1061.3,1945.7 L1063.3,1945.7 L1065.3,1945.7 L1067.2,1945.7 L1069.2,1945.7 L1071.2,1945.7 L1073.2,1945.7 L1075.2,1945.7 L1077.2,1945.6 L1079.1,1945.6 L1081.1,1945.6 L1083.1,1945.6 L1085.1,1945.6 L1087.1,1945.6 L1089.0,1945.6 L1091.0,1945.6 L1093.0,1945.6 L1095.0,1945.6 L1097.0,1945.6 L1098.9,1945.5 L1100.9,1945.5 L1102.9,1945.5 L1104.9,1945.5 L1106.9,1945.5 L1108.9,1945.5 L1110.8,1945.5 L1112.8,1945.5 L1114.8,1945.5 L1116.8,1945.5 L1118.8,1945.5 L1120.7,1945.5 L1122.7,1945.5 L1124.7,1945.5 L1126.7,1945.5 L1128.7,1945.5 L1130.6,1945.5 L1132.6,1945.5 L1134.6,1945.5 L1136.6,1945.5 L1138.6,1945.5 L1140.6,1945.5 L1142.5,1945.5 L1144.5,1945.5 L1146.5,1945.5 L1148.5,1945.5 L1150.5,1945.5 L1152.4,1945.5 L1154.4,1945.5 L1156.4,1945.5 L1158.4,1945.5 L1160.4,1945.5 L1162.4,1945.5 L1164.3,1945.5 L1166.3,1945.5 L1168.3,1945.5 L1170.3,1945.5 L1172.3,1945.5 L1174.2,1945.5 L1176.2,1945.5 L1178.2,1945.5 L1180.2,1945.5 L1182.2,1945.5 L1184.1,1945.5 L1186.1,1945.5 L1188.1,1945.5 L1190.1,1945.5 L1192.1,1945.5 L1194.1,1945.5 L1196.0,1945.5 L1198.0,1945.6 L1200.0,1945.6 L1202.0,1945.6 L1204.0,1945.6 L1205.9,1945.6 L1207.9,1945.6 L1209.9,1945.6 L1211.9,1945.6 L1213.9,1945.6 L1215.8,1945.6 L1217.8,1945.6 L1219.8,1945.6 L1221.8,1945.6 L1223.8,1945.6 L1225.8,1945.6 L1227.7,1945.6 L1229.7,1945.6 L1231.7,1945.6 L1233.7,1945.7 L1235.7,1945.7 L1237.6,1945.7 L1239.6,1945.7 L1241.6,1945.7 L1243.6,1945.7 L1245.6,1945.7 L1247.6,1945.7 L1249.5,1945.7 L1251.5,1945.7 L1253.5,1945.7 L1255.5,1945.7 L1257.5,1945.7 L1259.4,1945.7 L1261.4,1945.7 L1263.4,1945.7 L1265.4,1945.7 L1267.4,1945.7 L1269.3,1945.8 L1271.3,1945.8 L1273.3,1945.8 L1275.3,1945.8 L1277.3,1945.8 L1279.3,1945.8 L1281.2,1945.8 L1283.2,1945.8 L1285.2,1945.8 L1287.2,1945.8 L1289.2,1945.8 L1291.1,1945.8 L1293.1,1945.8 L1295.1,1945.8 L1297.1,1945.8 L1299.1,1945.8 L1301.1,1945.8 L1303.0,1945.8 L1305.0,1945.8 L1307.0,1945.8 L1309.0,1945.8 L1311.0,1945.8 L1312.9,1945.8 L1314.9,1945.8 L1316.9,1945.8 L1318.9,1945.8 L1320.9,1945.8 L1322.8,1945.8 L1324.8,1945.9 L1326.8,1945.9 L1328.8,1945.9 L1330.8,1945.9 L1332.8,1945.9 L1334.7,1945.9 L1336.7,1945.9 L1338.7,1945.9 L1340.7,1945.9 L1342.7,1945.9 L1344.6,1945.9 L1346.6,1945.9 L1348.6,1945.9 L1350.6,1945.9 L1352.6,1945.9 L1354.6,1945.9 L1356.5,1945.9 L1358.5,1945.9 L1360.5,1945.9 L1362.5,1945.9 L1364.5,1945.9 L1366.4,1945.9 L1368.4,1945.9 L1370.4,1945.9 L1372.4,1945.9 L1374.4,1945.9 L1376.3,1945.9 L1378.3,1945.9 L1380.3,1945.9 L1382.3,1945.9 L1384.3,1945.9 L1386.3,1945.9 L1388.2,1945.9 L1390.2,1945.9 L1392.2,1945.9 L1394.2,1945.9 L1396.2,1945.9 L1398.1,1945.9 L1400.1,1945.9 L1402.1,1945.9 L1404.1,1945.9 L1406.1,1945.9 L1408.0,1945.9 L1410.0,1945.9 L1412.0,1945.9 L1414.0,1945.9 L1416.0,1945.9 L1418.0,1945.9 L1419.9,1945.9 L1421.9,1945.9 L1423.9,1945.9 L1425.9,1945.9 L1427.9,1945.9 L1429.8,1945.9 L1431.8,1945.8 L1433.8,1945.8 L1435.8,1945.8 L1437.8,1945.8 L1439.7,1945.8 L1441.7,1945.8 L1443.7,1945.8 L1445.7,1945.8 L1447.7,1945.8 L1449.7,1945.8 L1451.6,1945.8 L1453.6,1945.8 L1455.6,1945.8 L1457.6,1945.8 L1459.6,1945.8 L1461.5,1945.8 L1463.5,1945.8 L1465.5,1945.8 L1467.5,1945.8 L1469.5,1945.8 L1471.4,1945.8 L1473.4,1945.8 L1475.4,1945.8 L1477.4,1945.8 L1479.4,1945.8 L1481.4,1945.8 L1483.3,1945.8 L1485.3,1945.8 L1487.3,1945.8 L1489.3,1945.8 L1491.3,1945.8 L1493.2,1945.8 L1495.2,1945.8 L1497.2,1945.8 L1499.2,1945.8 L1501.2,1945.8 L1503.1,1945.8 L1505.1,1945.8 L1507.1,1945.8 L1509.1,1945.8 L1511.1,1945.7 L1513.1,1945.7 L1515.0,1945.7 L1517.0,1945.7 L1519.0,1945.7 L1521.0,1945.7 L1523.0,1945.7 L1524.9,1945.7 L1526.9,1945.7 L1528.9,1945.7 L1530.9,1945.7 L1532.9,1945.7 L1534.8,1945.7 L1536.8,1945.7 L1538.8,1945.7 L1540.8,1945.7 L1542.8,1945.7 L1544.8,1945.7 L1546.7,1945.7 L1548.7,1945.7 L1550.7,1945.7 L1552.7,1945.7 L1554.7,1945.7 L1556.6,1945.7 L1558.6,1945.7 L1560.6,1945.7 L1562.6,1945.7 L1564.6,1945.7 L1566.6,1945.7 L1568.5,1945.7 L1570.5,1945.7 L1572.5,1945.7 L1574.5,1945.6 L1576.5,1945.6 L1578.4,1945.6 L1580.4,1945.6 L1582.4,1945.6 L1584.4,1945.6 L1586.4,1945.6 L1588.3,1945.6 L1590.3,1945.6 L1592.3,1945.6 L1594.3,1945.6 L1596.3,1945.6 L1598.3,1945.6 L1600.2,1945.6 L1602.2,1945.6 L1604.2,1945.6 L1606.2,1945.6 L1608.2,1945.6 L1610.1,1945.6 L1612.1,1945.6 L1614.1,1945.6 L1616.1,1945.6 L1618.1,1945.6 L1620.0,1945.6 L1622.0,1945.6 L1624.0,1945.6 L1626.0,1945.6 L1628.0,1945.6 L1630.0,1945.6 L1631.9,1945.6 L1633.9,1945.6 L1635.9,1945.6 L1637.9,1945.6 L1639.9,1945.6 L1641.8,1945.6 L1643.8,1945.6 L1645.8,1945.6 L1647.8,1945.6 L1649.8,1945.5 L1651.7,1945.5 L1653.7,1945.5 L1655.7,1945.5 L1657.7,1945.5 L1659.7,1945.5 L1661.7,1945.5 L1663.6,1945.5 L1665.6,1945.5 L1667.6,1945.5 L1669.6,1945.5 L1671.6,1945.5 L1673.5,1945.5 L1675.5,1945.5 L1677.5,1945.5 L1679.5,1945.5 L1681.5,1945.5 L1683.4,1945.5 L1685.4,1945.5 L1687.4,1945.5 L1689.4,1945.5 L1691.4,1945.5 L1693.4,1945.5 L1695.3,1945.5 L1697.3,1945.5 L1699.3,1945.5 L1701.3,1945.5 L1703.3,1945.5 L1705.2,1945.5 L1707.2,1945.5 L1709.2,1945.5 L1711.2,1945.5 L1713.2,1945.5 L1715.1,1945.5 L1717.1,1945.5 L1719.1,1945.5 L1721.1,1945.5 L1723.1,1945.5 L1725.1,1945.5 L1727.0,1945.5 L1729.0,1945.5 L1731.0,1945.5 L1733.0,1945.5 L1735.0,1945.5 L1736.9,1945.5 L1738.9,1945.5 L1740.9,1945.5 L1742.9,1945.5 L1744.9,1945.5 L1746.9,1945.5 L1748.8,1945.5 L1750.8,1945.5 L1752.8,1945.5 L1754.8,1945.5 L1756.8,1945.5 L1758.7,1945.5 L1760.7,1945.5 L1762.7,1945.5 L1764.7,1945.5 L1766.7,1945.5 L1768.6,1945.5 L1770.6,1945.5 L1772.6,1945.5 L1774.6,1945.5 L1776.6,1945.5 L1778.6,1945.5 L1780.5,1945.6 L1782.5,1945.6 L1784.5,1945.6 L1786.5,1945.6 L1788.5,1945.6 L1790.4,1945.6 L1792.4,1945.6 L1794.4,1945.6 L1796.4,1945.6 L1798.4,1945.6 L1800.3,1945.6 L1802.3,1945.6 L1804.3,1945.6 L1806.3,1945.6 L1808.3,1945.6 L1810.3,1945.6 L1812.2,1945.6 L1814.2,1945.6 L1816.2,1945.6" fill="none" stroke="#000" stroke-width="10" stroke-linejoin="round" stroke-linecap="butt"/>
<path d="M898.5,1766.03 L902.36,1765.12 L906.21,1764.19 L910.07,1763.21 L913.93,1762.19 L917.79,1761.13 L921.64,1760.03 L925.5,1758.88 L929.36,1757.68 L933.21,1756.43 L937.07,1755.12 L940.93,1753.76 L944.79,1752.34 L948.64,1750.85 L952.5,1749.3 L956.36,1747.68 L960.21,1745.99 L964.07,1744.21 L967.93,1742.36 L971.79,1740.43 L975.64,1738.4 L979.5,1736.28 L983.36,1734.06 L987.21,1731.74 L991.07,1729.31 L994.93,1726.77 L998.79,1724.11 L1002.64,1721.33 L1006.5,1718.42 L1010.36,1715.37 L1014.21,1712.2 L1018.07,1708.87 L1021.93,1705.41 L1025.79,1701.79 L1029.64,1698.03 L1033.5,1694.11 L1037.36,1690.04 L1041.21,1685.82 L1045.07,1681.44 L1048.93,1676.92 L1052.79,1672.27 L1056.64,1667.48 L1060.5,1662.57 L1064.36,1657.57 L1068.21,1652.48 L1072.07,1647.34 L1075.93,1642.16 L1079.79,1636.99 L1083.64,1631.86 L1087.5,1626.81 L1091.36,1621.89 L1095.21,1617.14 L1099.07,1612.63 L1102.93,1608.4 L1106.79,1604.5 L1110.64,1601 L1114.5,1597.95 L1118.36,1595.38 L1122.21,1593.35 L1126.07,1591.89 L1129.93,1591.02 L1133.79,1590.75 L1137.64,1591.1 L1141.5,1592.06 L1145.36,1593.61 L1149.21,1595.72 L1153.07,1598.36 L1156.93,1601.48 L1160.79,1605.04 L1164.64,1608.99 L1168.5,1613.26 L1172.36,1617.81 L1176.21,1622.59 L1180.07,1627.53 L1183.93,1632.6 L1187.79,1637.74 L1191.64,1642.91 L1195.5,1648.08 L1199.36,1653.22 L1203.21,1658.29 L1207.07,1663.29 L1210.93,1668.17 L1214.79,1672.94 L1218.64,1677.58 L1222.5,1682.08 L1226.36,1686.43 L1230.21,1690.64 L1234.07,1694.69 L1237.93,1698.58 L1241.79,1702.32 L1245.64,1705.92 L1249.5,1709.36 L1253.36,1712.66 L1257.21,1715.82 L1261.07,1718.84 L1264.93,1721.74 L1268.79,1724.5 L1272.64,1727.14 L1276.5,1729.67 L1280.36,1732.08 L1284.21,1734.39 L1288.07,1736.59 L1291.93,1738.7 L1295.79,1740.71 L1299.64,1742.63 L1303.5,1744.47 L1307.36,1746.23 L1311.21,1747.92 L1315.07,1749.53 L1318.93,1751.07 L1322.79,1752.54 L1326.64,1753.96 L1330.5,1755.31 L1334.36,1756.61 L1338.21,1757.85 L1342.07,1759.04 L1345.93,1760.19 L1349.79,1761.29 L1353.64,1762.34 L1357.5,1763.35" fill="none" stroke="#008b00" stroke-width="7.5" stroke-linejoin="round" stroke-linecap="butt"/>
<path d="M898.5,1797.9v-31M898.5,1568.5v31M975,1797.9v-31M975,1568.5v31M1051.5,1797.9v-31M1051.5,1568.5v31M1128,1797.9v-31M1128,1568.5v31M1204.5,1797.9v-31M1204.5,1568.5v31M1281,1797.9v-31M1281,1568.5v31M1357.5,1797.9v-31M1357.5,1568.5v31M898.5,1797.9h31M1357.5,1797.9h-31M898.5,1740.55h31M1357.5,1740.55h-31M898.5,1683.2h31M1357.5,1683.2h-31M898.5,1625.85h31M1357.5,1625.85h-31M898.5,1568.5h31M1357.5,1568.5h-31" stroke="#000" stroke-width="3" fill="none"/>
<rect x="898.5" y="1568.5" width="459" height="229.4" fill="none" stroke="#000" stroke-width="3"/>
<text x="881" y="1815.4" font-size="52" text-anchor="end">0</text>
<text x="881" y="1758.05" font-size="52" text-anchor="end">25</text>
<text x="881" y="1700.7" font-size="52" text-anchor="end">50</text>
<text x="881" y="1643.35" font-size="52" text-anchor="end">75</text>
<text x="881" y="1586" font-size="52" text-anchor="end">100</text>
<text x="898.5" y="1849" font-size="52" text-anchor="middle">2</text>
<text x="975" y="1849" font-size="52" text-anchor="middle">2.5</text>
<text x="1051.5" y="1849" font-size="52" text-anchor="middle">3</text>
<text x="1128" y="1849" font-size="52" text-anchor="middle">3.5</text>
<text x="1204.5" y="1849" font-size="52" text-anchor="middle">4</text>
<text x="1281" y="1849" font-size="52" text-anchor="middle">4.5</text>
<text x="1357.5" y="1849" font-size="52" text-anchor="middle">5</text>
<path d="M517.7,2208.8 L519.7,2209.1 L521.7,2209.5 L523.6,2209.9 L525.5,2210.4 L527.3,2211.0 L529.1,2211.6 L530.9,2212.3 L532.6,2213.0 L534.4,2213.8 L536.0,2214.7 L537.7,2215.6 L539.3,2216.6 L540.9,2217.6 L542.5,2218.6 L544.0,2219.7 L545.5,2220.9 L547.0,2222.0 L548.4,2223.3 L549.9,2224.5 L551.3,2225.8 L552.6,2227.2 L554.0,2228.6 L555.3,2230.0 L556.6,2231.4 L557.8,2232.9 L559.1,2234.4 L560.3,2235.9 L561.5,2237.5 L562.7,2239.0 L563.9,2240.6 L565.0,2242.3 L566.1,2243.9 L567.2,2245.6 L568.3,2247.2 L569.4,2248.9 L570.4,2250.6 L571.4,2252.3 L572.4,2254.1 L573.4,2255.8 L574.4,2257.5 L575.4,2259.3 L576.3,2261.0 L577.3,2262.8 L578.2,2264.5 L579.1,2266.3 L580.0,2268.0 L580.9,2269.7 L581.7,2271.5 L582.6,2273.2 L583.4,2275.0 L584.3,2276.7 L585.1,2278.5 L585.9,2280.2 L586.7,2281.9 L587.5,2283.7 L588.3,2285.4 L589.0,2287.2 L589.8,2288.9 L590.5,2290.7 L591.3,2292.4 L592.0,2294.2 L592.7,2296.0 L593.5,2297.7 L594.2,2299.5 L594.9,2301.3 L595.6,2303.1 L596.2,2304.9 L596.9,2306.7 L597.6,2308.5 L598.2,2310.3 L598.9,2312.1 L599.5,2313.9 L600.2,2315.8 L600.8,2317.6 L601.5,2319.4 L602.1,2321.3 L602.7,2323.2 L603.3,2325.0 L603.9,2326.9 L604.5,2328.8 L605.1,2330.7 L605.7,2332.6 L606.3,2334.6 L606.9,2336.5 L607.6,2338.4 L608.2,2340.3 L609.0,2342.0 L609.8,2343.7 L610.7,2345.3 L611.8,2346.8 L613.0,2348.1 L614.4,2349.2 L615.9,2350.1 L617.7,2350.8 L619.6,2351.3 L621.5,2351.7 L623.5,2352.2 L625.4,2352.8 L627.1,2353.6 L628.6,2354.5 L630.0,2355.6 L631.4,2356.9 L632.5,2358.3 L633.6,2359.8 L634.6,2361.5 L635.5,2363.2 L636.4,2365.0 L637.1,2366.9 L637.8,2368.8 L638.5,2370.8 L639.2,2372.8 L639.9,2374.8 L640.5,2376.7 L641.3,2378.6 L642.1,2380.5 L642.9,2382.2 L643.9,2383.9 L645.0,2385.4 L646.2,2386.7 L647.6,2387.9 L649.1,2389.0 L650.7,2389.8 L652.4,2390.5 L654.3,2391.1 L656.1,2391.5 L658.0,2391.8 L659.9,2392.0 L661.9,2392.1 L663.8,2392.2 L665.7,2392.2 L667.7,2392.2 L669.6,2392.1 L671.6,2392.1 L673.5,2392.1 L675.5,2392.1 L677.4,2392.1 L679.4,2392.1 L681.3,2392.2 L683.3,2392.2 L685.2,2392.2 L687.1,2392.3 L689.1,2392.3 L691.0,2392.3 L693.0,2392.4 L694.9,2392.5 L696.8,2392.5 L698.8,2392.6 L700.7,2392.6 L702.6,2392.7 L704.6,2392.8 L706.5,2392.8 L708.5,2392.9 L710.4,2393.0 L712.3,2393.0 L714.3,2393.1 L716.2,2393.2 L718.1,2393.2 L720.1,2393.3 L722.0,2393.3 L723.9,2393.4 L725.9,2393.4 L727.8,2393.5 L729.8,2393.5 L731.7,2393.5 L733.6,2393.6 L735.6,2393.6 L737.5,2393.6 L739.5,2393.6 L741.4,2393.7 L743.3,2393.7 L745.3,2393.7 L747.2,2393.7 L749.2,2393.7 L751.1,2393.7 L753.0,2393.7 L755.0,2393.7 L756.9,2393.7 L758.9,2393.7 L760.8,2393.7 L762.8,2393.7 L764.7,2393.6 L766.7,2393.6 L768.6,2393.6 L770.5,2393.6 L772.5,2393.6 L774.4,2393.6 L776.4,2393.5 L778.3,2393.5 L780.3,2393.5 L782.2,2393.5 L784.2,2393.5 L786.1,2393.4 L788.0,2393.4 L790.0,2393.4 L791.9,2393.4 L793.9,2393.4 L795.8,2393.3 L797.8,2393.3 L799.7,2393.3 L801.7,2393.3 L803.6,2393.3 L805.6,2393.2 L807.5,2393.2 L809.4,2393.2 L811.4,2393.2 L813.3,2393.2 L815.3,2393.2 L817.2,2393.2 L819.2,2393.2 L821.1,2393.2 L823.1,2393.2 L825.0,2393.1 L826.9,2393.1 L828.9,2393.1 L830.8,2393.1 L832.8,2393.1 L834.7,2393.1 L836.7,2393.1 L838.6,2393.1 L840.5,2393.1 L842.5,2393.1 L844.4,2393.1 L846.4,2393.1 L848.3,2393.1 L850.3,2393.1 L852.2,2393.1 L854.1,2393.2 L856.1,2393.2 L858.0,2393.2 L860.0,2393.2 L861.9,2393.2 L863.9,2393.2 L865.8,2393.2 L867.7,2393.2 L869.7,2393.2 L871.6,2393.2 L873.6,2393.2 L875.5,2393.2 L877.5,2393.2 L879.4,2393.2 L881.3,2393.2 L883.3,2393.3 L885.2,2393.3 L887.2,2393.3 L889.1,2393.3 L891.0,2393.3 L893.0,2393.3 L894.9,2393.3 L896.9,2393.3 L898.8,2393.3 L900.8,2393.3 L902.7,2393.3 L904.6,2393.3 L906.6,2393.4 L908.5,2393.4 L910.5,2393.4 L912.4,2393.4 L914.4,2393.4 L916.3,2393.4 L918.2,2393.4 L920.2,2393.4 L922.1,2393.4 L924.1,2393.4 L926.0,2393.4 L928.0,2393.4 L929.9,2393.4 L931.8,2393.4 L933.8,2393.4 L935.7,2393.4 L937.7,2393.4 L939.6,2393.4 L941.6,2393.4 L943.5,2393.4 L945.4,2393.4 L947.4,2393.4 L949.3,2393.4 L951.3,2393.4 L953.2,2393.4 L955.2,2393.4 L957.1,2393.4 L959.0,2393.4 L961.0,2393.4 L962.9,2393.4 L964.9,2393.4 L966.8,2393.4 L968.8,2393.3 L970.7,2393.3 L972.7,2393.3 L974.6,2393.3" fill="none" stroke="#0000ff" stroke-width="8" stroke-linejoin="round" stroke-linecap="butt"/>
<path d="M517.7,2206.5 L519.7,2206.9 L521.7,2207.2 L523.7,2207.5 L525.7,2207.6 L527.6,2207.6 L529.6,2207.5 L531.5,2207.3 L533.4,2207.1 L535.3,2206.7 L537.2,2206.3 L539.1,2205.7 L540.9,2205.1 L542.7,2204.4 L544.5,2203.7 L546.2,2202.8 L548.0,2202.0 L549.6,2201.0 L551.3,2200.0 L552.9,2198.9 L554.5,2197.7 L556.0,2196.5 L557.5,2195.3 L559.0,2194.0 L560.4,2192.7 L561.7,2191.3 L563.0,2189.9 L564.3,2188.5 L565.5,2187.0 L566.6,2185.5 L567.7,2184.0 L568.8,2182.4 L569.8,2180.8 L570.8,2179.2 L571.8,2177.5 L572.7,2175.9 L573.6,2174.2 L574.4,2172.5 L575.2,2170.7 L576.0,2169.0 L576.7,2167.2 L577.5,2165.4 L578.2,2163.6 L578.9,2161.8 L579.5,2159.9 L580.2,2158.1 L580.8,2156.2 L581.4,2154.4 L582.1,2152.5 L582.7,2150.6 L583.3,2148.7 L583.8,2146.8 L584.4,2144.9 L585.0,2143.0 L585.6,2141.1 L586.2,2139.1 L586.8,2137.2 L587.4,2135.3 L588.0,2133.4 L588.6,2131.5 L589.2,2129.6 L589.8,2127.7 L590.5,2125.8 L591.2,2123.9 L591.9,2122.0 L592.6,2120.1 L593.3,2118.3 L594.1,2116.5 L594.9,2114.7 L595.9,2113.0 L596.9,2111.4 L598.1,2110.0 L599.4,2108.7 L600.8,2107.6 L602.3,2106.8 L603.9,2106.6 L605.4,2106.9 L607.0,2107.7 L608.4,2108.8 L609.7,2110.1 L610.9,2111.6 L611.9,2113.1 L612.7,2114.7 L613.5,2116.3 L614.1,2118.1 L614.7,2119.9 L615.1,2121.8 L615.6,2123.7 L616.0,2125.6 L616.4,2127.7 L616.8,2129.7 L617.2,2131.8 L617.6,2133.9 L618.1,2136.0 L618.7,2138.1 L619.3,2140.2 L620.0,2142.3 L620.8,2144.3 L621.7,2146.2 L622.6,2147.9 L623.6,2149.5 L624.7,2150.9 L626.0,2152.1 L627.3,2153.0 L628.7,2153.7 L630.2,2154.1 L631.9,2154.2 L633.6,2154.0 L635.2,2153.5 L636.9,2152.7 L638.5,2151.6 L640.1,2150.3 L641.7,2148.9 L643.2,2147.4 L644.8,2146.0 L646.3,2144.6 L647.9,2143.3 L649.5,2142.2 L651.2,2141.4 L652.9,2140.8 L654.7,2140.5 L656.5,2140.5 L658.3,2140.6 L660.2,2140.9 L662.1,2141.4 L664.0,2141.9 L666.0,2142.5 L667.9,2143.1 L669.9,2143.7 L671.9,2144.3 L673.8,2144.8 L675.8,2145.2 L677.7,2145.5 L679.6,2145.6 L681.6,2145.5 L683.5,2145.3 L685.4,2145.1 L687.2,2144.8 L689.1,2144.4 L691.0,2144.1 L692.9,2143.9 L694.9,2143.7 L696.8,2143.7 L698.7,2143.7 L700.6,2143.7 L702.6,2143.8 L704.5,2143.9 L706.5,2144.0 L708.4,2144.1 L710.4,2144.2 L712.3,2144.3 L714.3,2144.4 L716.2,2144.4 L718.2,2144.5 L720.1,2144.6 L722.0,2144.7 L724.0,2144.7 L725.9,2144.8 L727.9,2144.8 L729.8,2144.9 L731.8,2144.9 L733.7,2145.0 L735.7,2145.0 L737.6,2145.1 L739.5,2145.1 L741.5,2145.1 L743.4,2145.2 L745.4,2145.2 L747.3,2145.2 L749.3,2145.2 L751.2,2145.3 L753.1,2145.3 L755.1,2145.3 L757.0,2145.3 L759.0,2145.3 L760.9,2145.3 L762.9,2145.3 L764.8,2145.3 L766.7,2145.3 L768.7,2145.3 L770.6,2145.3 L772.6,2145.3 L774.5,2145.3 L776.5,2145.3 L778.4,2145.3 L780.3,2145.3 L782.3,2145.3 L784.2,2145.3 L786.2,2145.3 L788.1,2145.3 L790.0,2145.3 L792.0,2145.3 L793.9,2145.2 L795.9,2145.2 L797.8,2145.2 L799.8,2145.2 L801.7,2145.2 L803.6,2145.2 L805.6,2145.2 L807.5,2145.2 L809.5,2145.2 L811.4,2145.2 L813.3,2145.2 L815.3,2145.2 L817.2,2145.2 L819.2,2145.2 L821.1,2145.2 L823.1,2145.2 L825.0,2145.2 L826.9,2145.2 L828.9,2145.1 L830.8,2145.1 L832.8,2145.1 L834.7,2145.1 L836.7,2145.1 L838.6,2145.1 L840.5,2145.1 L842.5,2145.1 L844.4,2145.1 L846.4,2145.1 L848.3,2145.1 L850.3,2145.1 L852.2,2145.1 L854.1,2145.1 L856.1,2145.1 L858.0,2145.1 L860.0,2145.2 L861.9,2145.2 L863.9,2145.2 L865.8,2145.2 L867.7,2145.2 L869.7,2145.2 L871.6,2145.2 L873.6,2145.2 L875.5,2145.2 L877.5,2145.2 L879.4,2145.2 L881.3,2145.2 L883.3,2145.2 L885.2,2145.2 L887.2,2145.2 L889.1,2145.2 L891.1,2145.2 L893.0,2145.2 L894.9,2145.2 L896.9,2145.2 L898.8,2145.2 L900.8,2145.2 L902.7,2145.2 L904.7,2145.2 L906.6,2145.2 L908.6,2145.2 L910.5,2145.2 L912.4,2145.2 L914.4,2145.2 L916.3,2145.2 L918.3,2145.2 L920.2,2145.2 L922.2,2145.2 L924.1,2145.2 L926.0,2145.2 L928.0,2145.2 L929.9,2145.2 L931.9,2145.2 L933.8,2145.2 L935.8,2145.2 L937.7,2145.2 L939.6,2145.2 L941.6,2145.2 L943.5,2145.2 L945.5,2145.2 L947.4,2145.2 L949.4,2145.2 L951.3,2145.2 L953.2,2145.2 L955.2,2145.2 L957.1,2145.2 L959.1,2145.2 L961.0,2145.2 L962.9,2145.2 L964.9,2145.2 L966.8,2145.2 L968.8,2145.2 L970.7,2145.2 L972.7,2145.2 L974.6,2145.2" fill="none" stroke="#ff0000" stroke-width="8" stroke-linejoin="round" stroke-linecap="butt"/>
<path d="M515.9,2440.4v-31M515.9,2058.5v31M630.58,2440.4v-31M630.58,2058.5v31M745.25,2440.4v-31M745.25,2058.5v31M859.92,2440.4v-31M859.92,2058.5v31M974.6,2440.4v-31M974.6,2058.5v31M515.9,2392.66h31M974.6,2392.66h-31M515.9,2297.19h31M974.6,2297.19h-31M515.9,2201.71h31M974.6,2201.71h-31M515.9,2106.24h31M974.6,2106.24h-31M515.9,2344.93h15M974.6,2344.93h-15M515.9,2249.45h15M974.6,2249.45h-15M515.9,2153.97h15M974.6,2153.97h-15" stroke="#000" stroke-width="3" fill="none"/>
<rect x="515.9" y="2058.5" width="458.7" height="381.9" fill="none" stroke="#000" stroke-width="3"/>
<text x="502.5" y="2410.96" font-size="54" text-anchor="end">-40000</text>
<text x="502.5" y="2315.49" font-size="54" text-anchor="end">-20000</text>
<text x="502.5" y="2220.01" font-size="54" text-anchor="end">0</text>
<text x="502.5" y="2124.54" font-size="54" text-anchor="end">20000</text>
<text x="515.9" y="2492.5" font-size="54" text-anchor="middle">0</text>
<text x="630.58" y="2492.5" font-size="54" text-anchor="middle">50</text>
<text x="745.25" y="2492.5" font-size="54" text-anchor="middle">100</text>
<text x="859.92" y="2492.5" font-size="54" text-anchor="middle">150</text>
<text x="974.6" y="2492.5" font-size="54" text-anchor="middle">200</text>
<rect x="669" y="2196.3" width="173" height="136.2" fill="#fff" stroke="#000" stroke-width="3.6"/>
<path d="M687,2233.9H749.2" stroke="#0000ff" stroke-width="7.8"/>
<path d="M687,2294.5H749.2" stroke="#ff0000" stroke-width="7.2"/>
<text x="780.5" y="2239" font-size="42" font-style="italic" textLength="28.5" lengthAdjust="spacingAndGlyphs">E</text><text x="806.5" y="2256.5" font-size="30">R</text>
<text x="780.5" y="2299.5" font-size="42" font-style="italic" textLength="28.5" lengthAdjust="spacingAndGlyphs">E</text><text x="806.5" y="2317" font-size="30">I</text>
<path d="M1205.4,2441.0 L1207.2,2440.6 L1209.0,2440.3 L1210.9,2440.1 L1212.9,2440.0 L1214.9,2439.9 L1216.9,2440.0 L1219.0,2440.0 L1221.1,2440.1 L1223.2,2440.1 L1225.2,2440.1 L1227.3,2440.0 L1229.3,2439.8 L1231.2,2439.6 L1233.2,2439.2 L1235.0,2438.7 L1236.8,2438.0 L1238.6,2437.3 L1240.3,2436.5 L1241.9,2435.5 L1243.5,2434.5 L1245.0,2433.4 L1246.5,2432.2 L1247.9,2430.9 L1249.3,2429.6 L1250.7,2428.2 L1251.9,2426.7 L1253.2,2425.2 L1254.4,2423.6 L1255.5,2422.0 L1256.6,2420.4 L1257.7,2418.8 L1258.7,2417.1 L1259.6,2415.4 L1260.6,2413.6 L1261.4,2411.9 L1262.3,2410.1 L1263.1,2408.4 L1263.8,2406.6 L1264.6,2404.8 L1265.3,2402.9 L1266.0,2401.1 L1266.6,2399.3 L1267.2,2397.4 L1267.8,2395.6 L1268.4,2393.7 L1269.0,2391.8 L1269.5,2389.9 L1270.0,2388.0 L1270.6,2386.1 L1271.1,2384.2 L1271.5,2382.3 L1272.0,2380.4 L1272.5,2378.5 L1272.9,2376.6 L1273.4,2374.7 L1273.8,2372.8 L1274.2,2370.9 L1274.7,2369.0 L1275.1,2367.1 L1275.5,2365.2 L1275.9,2363.3 L1276.3,2361.3 L1276.6,2359.4 L1277.0,2357.5 L1277.4,2355.6 L1277.7,2353.7 L1278.1,2351.8 L1278.4,2349.8 L1278.7,2347.9 L1279.1,2346.0 L1279.4,2344.1 L1279.7,2342.1 L1280.0,2340.2 L1280.3,2338.3 L1280.6,2336.3 L1280.9,2334.4 L1281.2,2332.5 L1281.5,2330.6 L1281.8,2328.6 L1282.0,2326.7 L1282.3,2324.8 L1282.6,2322.8 L1282.8,2320.9 L1283.1,2319.0 L1283.3,2317.0 L1283.6,2315.1 L1283.9,2313.1 L1284.1,2311.2 L1284.3,2309.3 L1284.6,2307.3 L1284.8,2305.4 L1285.1,2303.5 L1285.3,2301.5 L1285.5,2299.6 L1285.8,2297.6 L1286.0,2295.7 L1286.3,2293.8 L1286.5,2291.8 L1286.7,2289.9 L1287.0,2287.9 L1287.2,2286.0 L1287.4,2284.1 L1287.7,2282.1 L1287.9,2280.2 L1288.1,2278.3 L1288.4,2276.3 L1288.6,2274.4 L1288.9,2272.4 L1289.1,2270.5 L1289.3,2268.6 L1289.5,2266.6 L1289.8,2264.7 L1290.0,2262.7 L1290.2,2260.8 L1290.4,2258.8 L1290.6,2256.9 L1290.8,2254.9 L1290.9,2253.0 L1291.1,2251.1 L1291.2,2249.1 L1291.4,2247.1 L1291.5,2245.2 L1291.7,2243.2 L1291.9,2241.3 L1292.1,2239.4 L1292.4,2237.4 L1292.7,2235.5 L1293.2,2233.6 L1293.7,2231.7 L1294.3,2229.8 L1295.0,2227.9 L1295.8,2226.0 L1296.7,2224.2 L1297.8,2222.5 L1299.1,2221.2 L1300.5,2220.8 L1302.0,2221.4 L1303.5,2222.6 L1304.8,2224.2 L1305.8,2226.0 L1306.6,2227.9 L1307.2,2229.8 L1307.7,2231.8 L1308.1,2233.8 L1308.6,2235.8 L1309.3,2237.8 L1310.3,2239.8 L1311.5,2241.7 L1312.8,2243.1 L1314.0,2243.5 L1315.0,2242.8 L1315.7,2241.3 L1316.3,2239.5 L1316.9,2237.7 L1317.5,2235.8 L1318.1,2233.9 L1318.6,2232.0 L1319.1,2230.1 L1319.6,2228.2 L1320.1,2226.3 L1320.6,2224.3 L1321.0,2222.4 L1321.4,2220.5 L1321.8,2218.5 L1322.2,2216.6 L1322.6,2214.7 L1323.0,2212.7 L1323.3,2210.8 L1323.6,2208.8 L1324.0,2206.9 L1324.3,2204.9 L1324.6,2203.0 L1324.9,2201.0 L1325.2,2199.1 L1325.5,2197.1 L1325.8,2195.2 L1326.0,2193.3 L1326.3,2191.3 L1326.6,2189.4 L1326.9,2187.5 L1327.1,2185.6 L1327.4,2183.7 L1327.7,2181.8 L1328.0,2179.9 L1328.2,2178.0 L1328.5,2176.1 L1328.8,2174.2 L1329.1,2172.3 L1329.4,2170.4 L1329.8,2168.5 L1330.1,2166.6 L1330.4,2164.7 L1330.8,2162.8 L1331.2,2160.8 L1331.6,2158.9 L1332.0,2157.0 L1332.4,2155.1 L1332.9,2153.2 L1333.3,2151.2 L1333.8,2149.3 L1334.3,2147.4 L1334.9,2145.4 L1335.5,2143.5 L1336.1,2141.5 L1336.7,2139.5 L1337.3,2137.5 L1338.0,2135.5 L1338.8,2133.7 L1339.7,2131.9 L1340.7,2130.4 L1341.8,2129.2 L1343.1,2128.4 L1344.7,2128.0 L1346.5,2128.2 L1348.4,2128.7 L1350.3,2129.5 L1352.2,2130.5 L1354.0,2131.5 L1355.8,2132.6 L1357.5,2133.6 L1359.2,2134.6 L1360.9,2135.4 L1362.6,2135.9 L1364.3,2136.2 L1366.0,2136.2 L1367.7,2135.9 L1369.5,2135.4 L1371.3,2134.7 L1373.1,2133.9 L1374.9,2133.0 L1376.7,2132.0 L1378.5,2131.0 L1380.4,2130.0 L1382.2,2129.1 L1384.1,2128.3 L1386.0,2127.7 L1387.9,2127.1 L1389.8,2126.7 L1391.7,2126.5 L1393.6,2126.3 L1395.6,2126.2 L1397.5,2126.2 L1399.4,2126.2 L1401.4,2126.3 L1403.3,2126.4 L1405.3,2126.6 L1407.3,2126.8 L1409.2,2127.0 L1411.2,2127.1 L1413.1,2127.3 L1415.1,2127.4 L1417.0,2127.4 L1419.0,2127.5 L1421.0,2127.5 L1422.9,2127.5 L1424.9,2127.4 L1426.8,2127.4 L1428.8,2127.4 L1430.7,2127.3 L1432.7,2127.3 L1434.6,2127.3 L1436.6,2127.3 L1438.5,2127.2 L1440.5,2127.2 L1442.4,2127.2 L1444.4,2127.1 L1446.4,2127.1 L1448.3,2127.1 L1450.3,2127.1 L1452.2,2127.1 L1454.2,2127.0 L1456.1,2127.0 L1458.1,2127.0 L1460.0,2127.0 L1462.0,2127.0 L1463.9,2127.0 L1465.9,2126.9 L1467.8,2126.9 L1469.8,2126.9 L1471.7,2126.9 L1473.7,2126.9 L1475.7,2126.9 L1477.6,2126.9 L1479.6,2126.9 L1481.5,2126.9 L1483.5,2126.8 L1485.4,2126.8 L1487.4,2126.8 L1489.3,2126.8 L1491.3,2126.8 L1493.2,2126.8 L1495.2,2126.8 L1497.1,2126.8 L1499.1,2126.8 L1501.1,2126.8 L1503.0,2126.8 L1505.0,2126.8 L1506.9,2126.8 L1508.9,2126.8 L1510.8,2126.8 L1512.8,2126.8 L1514.7,2126.8 L1516.7,2126.8 L1518.6,2126.8 L1520.6,2126.8 L1522.5,2126.8 L1524.5,2126.8 L1526.4,2126.8 L1528.4,2126.8 L1530.4,2126.8 L1532.3,2126.8 L1534.3,2126.8 L1536.2,2126.8 L1538.2,2126.8 L1540.1,2126.9 L1542.1,2126.9 L1544.0,2126.9 L1546.0,2126.9 L1547.9,2126.9 L1549.9,2126.9 L1551.8,2126.9 L1553.8,2126.9 L1555.8,2126.9 L1557.7,2126.9 L1559.7,2126.9 L1561.6,2126.9 L1563.6,2126.9 L1565.5,2126.9 L1567.5,2126.9 L1569.4,2127.0 L1571.4,2127.0 L1573.3,2127.0 L1575.3,2127.0 L1577.2,2127.0 L1579.2,2127.0 L1581.1,2127.0 L1583.1,2127.0 L1585.1,2127.0 L1587.0,2127.0 L1589.0,2127.0 L1590.9,2127.0 L1592.9,2127.0 L1594.8,2127.0 L1596.8,2127.0 L1598.7,2127.0 L1600.7,2127.1 L1602.6,2127.1 L1604.6,2127.1 L1606.5,2127.1 L1608.5,2127.1 L1610.5,2127.1 L1612.4,2127.1 L1614.4,2127.1 L1616.3,2127.1 L1618.3,2127.1 L1620.2,2127.1 L1622.2,2127.1 L1624.1,2127.1 L1626.1,2127.1 L1628.0,2127.1 L1630.0,2127.1 L1631.9,2127.1 L1633.9,2127.1 L1635.9,2127.1 L1637.8,2127.1 L1639.8,2127.1 L1641.7,2127.1 L1643.7,2127.1 L1645.6,2127.1 L1647.6,2127.1 L1649.5,2127.1 L1651.5,2127.0 L1653.4,2127.0 L1655.4,2127.0 L1657.3,2127.0 L1659.3,2127.0 L1661.2,2127.0 L1663.2,2127.0" fill="none" stroke="#7221bc" stroke-width="7.8" stroke-linejoin="round" stroke-linecap="butt"/>
<path d="M1204.5,2440.5v-31M1204.5,2058.5v31M1319.17,2440.5v-31M1319.17,2058.5v31M1433.85,2440.5v-31M1433.85,2058.5v31M1548.53,2440.5v-31M1548.53,2058.5v31M1663.2,2440.5v-31M1663.2,2058.5v31M1204.5,2440.5h31M1663.2,2440.5h-31M1204.5,2345h31M1663.2,2345h-31M1204.5,2249.5h31M1663.2,2249.5h-31M1204.5,2154h31M1663.2,2154h-31M1204.5,2058.5h31M1663.2,2058.5h-31M1204.5,2392.75h15M1663.2,2392.75h-15M1204.5,2297.25h15M1663.2,2297.25h-15M1204.5,2201.75h15M1663.2,2201.75h-15M1204.5,2106.25h15M1663.2,2106.25h-15" stroke="#000" stroke-width="3" fill="none"/>
<rect x="1204.5" y="2058.5" width="458.7" height="382" fill="none" stroke="#000" stroke-width="3"/>
<text x="1191" y="2458.8" font-size="54" text-anchor="end">0</text>
<text x="1191" y="2363.3" font-size="54" text-anchor="end">5</text>
<text x="1191" y="2267.8" font-size="54" text-anchor="end">10</text>
<text x="1191" y="2172.3" font-size="54" text-anchor="end">15</text>
<text x="1191" y="2076.8" font-size="54" text-anchor="end">20</text>
<text x="1204.5" y="2491" font-size="54" text-anchor="middle">0</text>
<text x="1319.17" y="2491" font-size="54" text-anchor="middle">50</text>
<text x="1433.85" y="2491" font-size="54" text-anchor="middle">100</text>
<text x="1548.53" y="2491" font-size="54" text-anchor="middle">150</text>
<text x="1663.2" y="2491" font-size="54" text-anchor="middle">200</text>
<text x="966.9" y="1246" font-size="66" textLength="130.1" lengthAdjust="spacingAndGlyphs"><tspan font-style="italic">t</tspan> [ps]</text>
<text x="951.9" y="2712.4" font-size="66" textLength="130.2" lengthAdjust="spacingAndGlyphs"><tspan font-style="italic">t</tspan> [ps]</text>
<text x="787" y="1078.7" font-size="54" textLength="106.09" lengthAdjust="spacingAndGlyphs"><tspan font-style="italic">t</tspan> [ps]</text>
<text x="1475" y="1078.7" font-size="54" textLength="107.24" lengthAdjust="spacingAndGlyphs"><tspan font-style="italic">t</tspan> [ps]</text>
<text x="695" y="2544.6" font-size="54" textLength="107.24" lengthAdjust="spacingAndGlyphs"><tspan font-style="italic">t</tspan> [ps]</text>
<text x="1384.1" y="2544.6" font-size="54" textLength="107.14" lengthAdjust="spacingAndGlyphs"><tspan font-style="italic">t</tspan> [ps]</text>
<text x="1064.1" y="619.8" font-size="54" textLength="161.36" lengthAdjust="spacingAndGlyphs"><tspan font-style="italic">f</tspan> [THz]</text>
<text x="1049.1" y="1901.7" font-size="54" textLength="161.36" lengthAdjust="spacingAndGlyphs"><tspan font-style="italic">f</tspan> [THz]</text>
<text x="619.3" y="1374.7" font-size="76" textLength="92.8" lengthAdjust="spacingAndGlyphs">(<tspan font-weight="bold">b</tspan>)</text>
<text x="729.9" y="1374.7" font-size="76" textLength="41.06" lengthAdjust="spacingAndGlyphs">2</text>
<text x="787.6" y="1374.7" font-size="76" textLength="145.69" lengthAdjust="spacingAndGlyphs">THz</text>
<text x="952" y="1374.7" font-size="76" textLength="144.59" lengthAdjust="spacingAndGlyphs">BTC</text>
<text x="1114" y="1374.7" font-size="76" textLength="177.19" lengthAdjust="spacingAndGlyphs">QCL.</text>
<text x="540.4" y="2840.6" font-size="76" textLength="81.11" lengthAdjust="spacingAndGlyphs">(<tspan font-weight="bold">c</tspan>)</text>
<text x="638.5" y="2840.6" font-size="76" textLength="94.68" lengthAdjust="spacingAndGlyphs">3.4</text>
<text x="752.7" y="2840.6" font-size="76" textLength="145.28" lengthAdjust="spacingAndGlyphs">THz</text>
<text x="916.4" y="2840.6" font-size="76" textLength="242.33" lengthAdjust="spacingAndGlyphs">Hybrid</text>
<text x="1176.8" y="2840.6" font-size="76" textLength="177.82" lengthAdjust="spacingAndGlyphs">QCL.</text>
<text transform="translate(120.8,705.2) rotate(-90)" font-size="66" textLength="235.9" lengthAdjust="spacingAndGlyphs"><tspan font-style="italic">G</tspan> [cm<tspan font-size="46.2" dy="-38.3">-1</tspan><tspan dy="38.3">]</tspan></text>
<text transform="translate(106,2172) rotate(-90)" font-size="66" textLength="235.17" lengthAdjust="spacingAndGlyphs"><tspan font-style="italic">G</tspan> [cm<tspan font-size="46.2" dy="-38.3">-1</tspan><tspan dy="38.3">]</tspan></text>
<text transform="translate(818.8,484.3) rotate(-90)" font-size="54" textLength="172.51" lengthAdjust="spacingAndGlyphs"><tspan font-style="italic">g</tspan> [cm<tspan font-size="37.8" dy="-31.3">-1</tspan><tspan dy="31.3">]</tspan></text>
<text transform="translate(777.7,1765.9) rotate(-90)" font-size="54" textLength="171.48" lengthAdjust="spacingAndGlyphs"><tspan font-style="italic">g</tspan> [cm<tspan font-size="37.8" dy="-31.3">-1</tspan><tspan dy="31.3">]</tspan></text>
<text transform="translate(418.2,921) rotate(-90)" font-size="54" textLength="205.43" lengthAdjust="spacingAndGlyphs"><tspan font-style="italic">E</tspan> [Vm<tspan font-size="37.8" dy="-31.3">-1</tspan><tspan dy="31.3">]</tspan></text>
<text transform="translate(326.7,2348.6) rotate(-90)" font-size="54" textLength="205.12" lengthAdjust="spacingAndGlyphs"><tspan font-style="italic">E</tspan> [Vm<tspan font-size="37.8" dy="-31.3">-1</tspan><tspan dy="31.3">]</tspan></text>
<text transform="translate(1193,901.4) rotate(-90)" font-size="54" textLength="166.5" lengthAdjust="spacingAndGlyphs"><tspan font-style="italic">L</tspan> [mW]</text>
<text transform="translate(1112.9,2332) rotate(-90)" font-size="54" textLength="170.35" lengthAdjust="spacingAndGlyphs"><tspan font-style="italic">L</tspan> [mW]</text>
</svg></body></html>
